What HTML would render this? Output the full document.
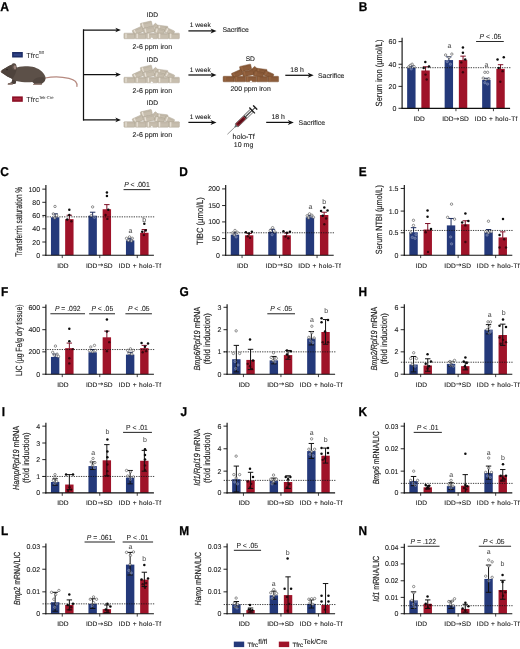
<!DOCTYPE html>
<html lang="en">
<head>
<meta charset="utf-8">
<title>Figure: Tfrc fl/fl vs Tfrc Tek-Cre iron studies</title>
<style>
html,body{margin:0;padding:0;background:#fff;}
body{width:520px;height:649px;overflow:hidden;font-family:"Liberation Sans",Arial,sans-serif;}
svg{display:block;}
</style>
</head>
<body>
<svg width="520" height="649" viewBox="0 0 520 649" style="font-family:'Liberation Sans',Arial,sans-serif" text-rendering="geometricPrecision">
<rect x="0" y="0" width="520" height="649" fill="#ffffff" />
<g id="panel-A">
<text transform="translate(0.3 10.6) scale(0.95 1)" font-size="12.8" text-anchor="start" fill="#000" font-weight="bold" stroke="#000" stroke-width="0.25">A</text>
<rect x="12.1" y="52" width="10.7" height="5.5" fill="#1e2e68" />
<rect x="13.6" y="53.6" width="7.6" height="2.3" fill="#3f56a0" opacity="0.55"/>
<text transform="translate(26.2 57.6)" font-size="7.4" text-anchor="start" fill="#222">Tfrc<tspan font-size="4.2" dy="-3.2">fl/fl</tspan></text>
<rect x="12.1" y="96.4" width="10.7" height="5.4" fill="#8c0f25" />
<rect x="13.6" y="98" width="7.6" height="2.2" fill="#c0384f" opacity="0.55"/>
<text transform="translate(26.2 101.8)" font-size="7.4" text-anchor="start" fill="#222">Tfrc<tspan font-size="4.2" dy="-3.2">Tek-Cre</tspan></text>
<g id="mouse"><path d="M45.2 78.0 C52 76.5 62 76.6 69 78.4 C74.6 79.8 77.6 82.6 76.9 86.4" fill="none" stroke="#b68a80" stroke-width="1.25" stroke-linecap="round"/><path d="M1.1 71 C3.5 69 8 66.2 11.6 64.8 L17 67.4 C20 66.6 24 66.3 28 66.3 C34 66.4 40 69 43.2 73 C44.8 75 45.8 77 45.6 78.6 C45.4 80.6 44 82.4 42.2 83.2 L41.4 84.5 L33.6 84.5 L34.2 83.3 C33.4 82.6 33 82.2 32.4 82 C27 82.6 21 82 16.2 81 L15.6 83.4 L12.4 84.3 L8 84.4 L8.4 83.3 L11.6 82.6 L12.4 79 C9.5 78 5.5 75.4 1.4 72.6 C0.8 72.1 0.7 71.5 1.1 71 Z" fill="#5c5048"/><path d="M1.1 71 C3.5 69 8 66.2 11.6 64.8 L17 67.4 C16.4 71 15 75.6 12.4 79 C9.5 78 5.5 75.4 1.4 72.6 C0.8 72.1 0.7 71.5 1.1 71 Z" fill="#4e433c"/><path d="M32.4 82 C33.6 78.6 38 76.4 43.6 77.4 C45.6 78 45.6 81.6 42.2 83.2 L41.4 84.5 L33.6 84.5 L34.2 83.3 Z" fill="#51463f"/><path d="M12.4 79 C13.6 80.2 15 80.8 16.2 81 L15.6 83.4 L12.4 84.3 L8 84.4 L8.4 83.3 L11.6 82.6 Z" fill="#4a3f39"/><ellipse cx="14.1" cy="66.6" rx="2.5" ry="3.4" transform="rotate(-8 14.1 66.6)" fill="#5a4d46"/><ellipse cx="14.9" cy="67.4" rx="1.3" ry="2.2" transform="rotate(-8 14.9 67.4)" fill="#9a837a"/><circle cx="7.0" cy="69.6" r="0.7" fill="#1c1715"/><path d="M7.8 83.5 L12.6 83.3 L12.6 84.6 L7.6 84.7 Z" fill="#9d857c"/><path d="M33.2 83.7 L41.6 83.5 L41.8 84.8 L33 84.9 Z" fill="#9d857c"/><circle cx="1.2" cy="71.6" r="0.5" fill="#8e6f66"/></g>
<line x1="83.5" y1="29.4" x2="83.5" y2="120.5" stroke="#111" stroke-width="1.25" />
<line x1="83" y1="30" x2="116.98" y2="30" stroke="#111" stroke-width="1.25" />
<path d="M120.9 30 L115.3 27.65 L116.87 30 L115.3 32.35 Z" fill="#111"/>
<line x1="83.4" y1="74.6" x2="116.98" y2="74.6" stroke="#111" stroke-width="1.25" />
<path d="M120.9 74.6 L115.3 72.25 L116.87 74.6 L115.3 76.95 Z" fill="#111"/>
<line x1="83" y1="119.9" x2="116.98" y2="119.9" stroke="#111" stroke-width="1.25" />
<path d="M120.9 119.9 L115.3 117.55 L116.87 119.9 L115.3 122.25 Z" fill="#111"/>
<g transform="translate(123.8 38.8)"><g transform="translate(22.6 -13.9) rotate(-13)"><rect x="-5.7" y="-2.8" width="11.4" height="5.6" rx="0.7" fill="#c7beae" stroke="#a69d8c" stroke-width="0.4"/><rect x="-4.2" y="-2.3" width="1.2" height="4.6" fill="#ece6db" opacity="0.9"/><line x1="-2.3" y1="-1.5" x2="4.7" y2="-1.5" stroke="#a69d8c" stroke-width="0.35" opacity="0.7"/></g><g transform="translate(31.2 -11.6) rotate(-48)"><rect x="-3.3" y="-2.5" width="6.6" height="5" rx="0.7" fill="#c7beae" stroke="#a69d8c" stroke-width="0.4"/><rect x="-1.8" y="-2" width="1.2" height="4" fill="#ece6db" opacity="0.9"/><line x1="0.1" y1="-1.2" x2="2.3" y2="-1.2" stroke="#a69d8c" stroke-width="0.35" opacity="0.7"/></g><g transform="translate(38.6 -10.6) rotate(7)"><rect x="-5.3" y="-2.5" width="10.6" height="5" rx="0.7" fill="#c7beae" stroke="#a69d8c" stroke-width="0.4"/><rect x="-3.8" y="-2" width="1.2" height="4" fill="#ece6db" opacity="0.9"/><line x1="-1.9" y1="-1.2" x2="4.3" y2="-1.2" stroke="#a69d8c" stroke-width="0.35" opacity="0.7"/></g><g transform="translate(14.2 -8) rotate(-24)"><rect x="-5.3" y="-2.7" width="10.6" height="5.4" rx="0.7" fill="#c7beae" stroke="#a69d8c" stroke-width="0.4"/><rect x="-3.8" y="-2.2" width="1.2" height="4.4" fill="#ece6db" opacity="0.9"/><line x1="-1.9" y1="-1.4" x2="4.3" y2="-1.4" stroke="#a69d8c" stroke-width="0.35" opacity="0.7"/></g><g transform="translate(25 -8.8) rotate(-12)"><rect x="-5.5" y="-2.7" width="11" height="5.4" rx="0.7" fill="#c7beae" stroke="#a69d8c" stroke-width="0.4"/><rect x="-4" y="-2.2" width="1.2" height="4.4" fill="#ece6db" opacity="0.9"/><line x1="-2.1" y1="-1.4" x2="4.5" y2="-1.4" stroke="#a69d8c" stroke-width="0.35" opacity="0.7"/></g><g transform="translate(35.6 -7.6) rotate(14)"><rect x="-4.9" y="-2.6" width="9.8" height="5.2" rx="0.7" fill="#c7beae" stroke="#a69d8c" stroke-width="0.4"/><rect x="-3.4" y="-2.1" width="1.2" height="4.2" fill="#ece6db" opacity="0.9"/><line x1="-1.5" y1="-1.3" x2="3.9" y2="-1.3" stroke="#a69d8c" stroke-width="0.35" opacity="0.7"/></g><g transform="translate(45.6 -7.3) rotate(24)"><rect x="-4.8" y="-2.5" width="9.6" height="5" rx="0.7" fill="#c7beae" stroke="#a69d8c" stroke-width="0.4"/><rect x="-3.3" y="-2" width="1.2" height="4" fill="#ece6db" opacity="0.9"/><line x1="-1.4" y1="-1.2" x2="3.8" y2="-1.2" stroke="#a69d8c" stroke-width="0.35" opacity="0.7"/></g><g transform="translate(5.6 -2.85) rotate(0)"><rect x="-5.5" y="-2.8" width="11" height="5.6" rx="0.7" fill="#c7beae" stroke="#a69d8c" stroke-width="0.4"/><rect x="-4" y="-2.3" width="1.2" height="4.6" fill="#ece6db" opacity="0.9"/><line x1="-2.1" y1="-1.5" x2="4.5" y2="-1.5" stroke="#a69d8c" stroke-width="0.35" opacity="0.7"/></g><g transform="translate(16.8 -2.85) rotate(0)"><rect x="-5.5" y="-2.8" width="11" height="5.6" rx="0.7" fill="#c7beae" stroke="#a69d8c" stroke-width="0.4"/><rect x="-4" y="-2.3" width="1.2" height="4.6" fill="#ece6db" opacity="0.9"/><line x1="-2.1" y1="-1.5" x2="4.5" y2="-1.5" stroke="#a69d8c" stroke-width="0.35" opacity="0.7"/></g><g transform="translate(28 -2.85) rotate(0)"><rect x="-5.5" y="-2.8" width="11" height="5.6" rx="0.7" fill="#c7beae" stroke="#a69d8c" stroke-width="0.4"/><rect x="-4" y="-2.3" width="1.2" height="4.6" fill="#ece6db" opacity="0.9"/><line x1="-2.1" y1="-1.5" x2="4.5" y2="-1.5" stroke="#a69d8c" stroke-width="0.35" opacity="0.7"/></g><g transform="translate(39.2 -2.85) rotate(0)"><rect x="-5.5" y="-2.8" width="11" height="5.6" rx="0.7" fill="#c7beae" stroke="#a69d8c" stroke-width="0.4"/><rect x="-4" y="-2.3" width="1.2" height="4.6" fill="#ece6db" opacity="0.9"/><line x1="-2.1" y1="-1.5" x2="4.5" y2="-1.5" stroke="#a69d8c" stroke-width="0.35" opacity="0.7"/></g><g transform="translate(50.2 -2.85) rotate(0)"><rect x="-5.4" y="-2.8" width="10.8" height="5.6" rx="0.7" fill="#c7beae" stroke="#a69d8c" stroke-width="0.4"/><rect x="-3.9" y="-2.3" width="1.2" height="4.6" fill="#ece6db" opacity="0.9"/><line x1="-2" y1="-1.5" x2="4.4" y2="-1.5" stroke="#a69d8c" stroke-width="0.35" opacity="0.7"/></g><path d="M26.6 0.2 L28.0 -1.6 L29.4 0.2 Z" fill="#ffffff"/></g>
<text transform="translate(152.4 17.2)" font-size="6.7" text-anchor="middle" fill="#222" stroke="#222" stroke-width="0.1">IDD</text>
<text transform="translate(152.4 48.5)" font-size="7.05" text-anchor="middle" fill="#222" stroke="#222" stroke-width="0.1">2-6 ppm iron</text>
<g transform="translate(123.8 82.9)"><g transform="translate(22.6 -13.9) rotate(-13)"><rect x="-5.7" y="-2.8" width="11.4" height="5.6" rx="0.7" fill="#c7beae" stroke="#a69d8c" stroke-width="0.4"/><rect x="-4.2" y="-2.3" width="1.2" height="4.6" fill="#ece6db" opacity="0.9"/><line x1="-2.3" y1="-1.5" x2="4.7" y2="-1.5" stroke="#a69d8c" stroke-width="0.35" opacity="0.7"/></g><g transform="translate(31.2 -11.6) rotate(-48)"><rect x="-3.3" y="-2.5" width="6.6" height="5" rx="0.7" fill="#c7beae" stroke="#a69d8c" stroke-width="0.4"/><rect x="-1.8" y="-2" width="1.2" height="4" fill="#ece6db" opacity="0.9"/><line x1="0.1" y1="-1.2" x2="2.3" y2="-1.2" stroke="#a69d8c" stroke-width="0.35" opacity="0.7"/></g><g transform="translate(38.6 -10.6) rotate(7)"><rect x="-5.3" y="-2.5" width="10.6" height="5" rx="0.7" fill="#c7beae" stroke="#a69d8c" stroke-width="0.4"/><rect x="-3.8" y="-2" width="1.2" height="4" fill="#ece6db" opacity="0.9"/><line x1="-1.9" y1="-1.2" x2="4.3" y2="-1.2" stroke="#a69d8c" stroke-width="0.35" opacity="0.7"/></g><g transform="translate(14.2 -8) rotate(-24)"><rect x="-5.3" y="-2.7" width="10.6" height="5.4" rx="0.7" fill="#c7beae" stroke="#a69d8c" stroke-width="0.4"/><rect x="-3.8" y="-2.2" width="1.2" height="4.4" fill="#ece6db" opacity="0.9"/><line x1="-1.9" y1="-1.4" x2="4.3" y2="-1.4" stroke="#a69d8c" stroke-width="0.35" opacity="0.7"/></g><g transform="translate(25 -8.8) rotate(-12)"><rect x="-5.5" y="-2.7" width="11" height="5.4" rx="0.7" fill="#c7beae" stroke="#a69d8c" stroke-width="0.4"/><rect x="-4" y="-2.2" width="1.2" height="4.4" fill="#ece6db" opacity="0.9"/><line x1="-2.1" y1="-1.4" x2="4.5" y2="-1.4" stroke="#a69d8c" stroke-width="0.35" opacity="0.7"/></g><g transform="translate(35.6 -7.6) rotate(14)"><rect x="-4.9" y="-2.6" width="9.8" height="5.2" rx="0.7" fill="#c7beae" stroke="#a69d8c" stroke-width="0.4"/><rect x="-3.4" y="-2.1" width="1.2" height="4.2" fill="#ece6db" opacity="0.9"/><line x1="-1.5" y1="-1.3" x2="3.9" y2="-1.3" stroke="#a69d8c" stroke-width="0.35" opacity="0.7"/></g><g transform="translate(45.6 -7.3) rotate(24)"><rect x="-4.8" y="-2.5" width="9.6" height="5" rx="0.7" fill="#c7beae" stroke="#a69d8c" stroke-width="0.4"/><rect x="-3.3" y="-2" width="1.2" height="4" fill="#ece6db" opacity="0.9"/><line x1="-1.4" y1="-1.2" x2="3.8" y2="-1.2" stroke="#a69d8c" stroke-width="0.35" opacity="0.7"/></g><g transform="translate(5.6 -2.85) rotate(0)"><rect x="-5.5" y="-2.8" width="11" height="5.6" rx="0.7" fill="#c7beae" stroke="#a69d8c" stroke-width="0.4"/><rect x="-4" y="-2.3" width="1.2" height="4.6" fill="#ece6db" opacity="0.9"/><line x1="-2.1" y1="-1.5" x2="4.5" y2="-1.5" stroke="#a69d8c" stroke-width="0.35" opacity="0.7"/></g><g transform="translate(16.8 -2.85) rotate(0)"><rect x="-5.5" y="-2.8" width="11" height="5.6" rx="0.7" fill="#c7beae" stroke="#a69d8c" stroke-width="0.4"/><rect x="-4" y="-2.3" width="1.2" height="4.6" fill="#ece6db" opacity="0.9"/><line x1="-2.1" y1="-1.5" x2="4.5" y2="-1.5" stroke="#a69d8c" stroke-width="0.35" opacity="0.7"/></g><g transform="translate(28 -2.85) rotate(0)"><rect x="-5.5" y="-2.8" width="11" height="5.6" rx="0.7" fill="#c7beae" stroke="#a69d8c" stroke-width="0.4"/><rect x="-4" y="-2.3" width="1.2" height="4.6" fill="#ece6db" opacity="0.9"/><line x1="-2.1" y1="-1.5" x2="4.5" y2="-1.5" stroke="#a69d8c" stroke-width="0.35" opacity="0.7"/></g><g transform="translate(39.2 -2.85) rotate(0)"><rect x="-5.5" y="-2.8" width="11" height="5.6" rx="0.7" fill="#c7beae" stroke="#a69d8c" stroke-width="0.4"/><rect x="-4" y="-2.3" width="1.2" height="4.6" fill="#ece6db" opacity="0.9"/><line x1="-2.1" y1="-1.5" x2="4.5" y2="-1.5" stroke="#a69d8c" stroke-width="0.35" opacity="0.7"/></g><g transform="translate(50.2 -2.85) rotate(0)"><rect x="-5.4" y="-2.8" width="10.8" height="5.6" rx="0.7" fill="#c7beae" stroke="#a69d8c" stroke-width="0.4"/><rect x="-3.9" y="-2.3" width="1.2" height="4.6" fill="#ece6db" opacity="0.9"/><line x1="-2" y1="-1.5" x2="4.4" y2="-1.5" stroke="#a69d8c" stroke-width="0.35" opacity="0.7"/></g><path d="M26.6 0.2 L28.0 -1.6 L29.4 0.2 Z" fill="#ffffff"/></g>
<text transform="translate(152.4 61.6)" font-size="6.7" text-anchor="middle" fill="#222" stroke="#222" stroke-width="0.1">IDD</text>
<text transform="translate(152.4 92.7)" font-size="7.05" text-anchor="middle" fill="#222" stroke="#222" stroke-width="0.1">2-6 ppm iron</text>
<g transform="translate(123.8 127.3)"><g transform="translate(22.6 -13.9) rotate(-13)"><rect x="-5.7" y="-2.8" width="11.4" height="5.6" rx="0.7" fill="#c7beae" stroke="#a69d8c" stroke-width="0.4"/><rect x="-4.2" y="-2.3" width="1.2" height="4.6" fill="#ece6db" opacity="0.9"/><line x1="-2.3" y1="-1.5" x2="4.7" y2="-1.5" stroke="#a69d8c" stroke-width="0.35" opacity="0.7"/></g><g transform="translate(31.2 -11.6) rotate(-48)"><rect x="-3.3" y="-2.5" width="6.6" height="5" rx="0.7" fill="#c7beae" stroke="#a69d8c" stroke-width="0.4"/><rect x="-1.8" y="-2" width="1.2" height="4" fill="#ece6db" opacity="0.9"/><line x1="0.1" y1="-1.2" x2="2.3" y2="-1.2" stroke="#a69d8c" stroke-width="0.35" opacity="0.7"/></g><g transform="translate(38.6 -10.6) rotate(7)"><rect x="-5.3" y="-2.5" width="10.6" height="5" rx="0.7" fill="#c7beae" stroke="#a69d8c" stroke-width="0.4"/><rect x="-3.8" y="-2" width="1.2" height="4" fill="#ece6db" opacity="0.9"/><line x1="-1.9" y1="-1.2" x2="4.3" y2="-1.2" stroke="#a69d8c" stroke-width="0.35" opacity="0.7"/></g><g transform="translate(14.2 -8) rotate(-24)"><rect x="-5.3" y="-2.7" width="10.6" height="5.4" rx="0.7" fill="#c7beae" stroke="#a69d8c" stroke-width="0.4"/><rect x="-3.8" y="-2.2" width="1.2" height="4.4" fill="#ece6db" opacity="0.9"/><line x1="-1.9" y1="-1.4" x2="4.3" y2="-1.4" stroke="#a69d8c" stroke-width="0.35" opacity="0.7"/></g><g transform="translate(25 -8.8) rotate(-12)"><rect x="-5.5" y="-2.7" width="11" height="5.4" rx="0.7" fill="#c7beae" stroke="#a69d8c" stroke-width="0.4"/><rect x="-4" y="-2.2" width="1.2" height="4.4" fill="#ece6db" opacity="0.9"/><line x1="-2.1" y1="-1.4" x2="4.5" y2="-1.4" stroke="#a69d8c" stroke-width="0.35" opacity="0.7"/></g><g transform="translate(35.6 -7.6) rotate(14)"><rect x="-4.9" y="-2.6" width="9.8" height="5.2" rx="0.7" fill="#c7beae" stroke="#a69d8c" stroke-width="0.4"/><rect x="-3.4" y="-2.1" width="1.2" height="4.2" fill="#ece6db" opacity="0.9"/><line x1="-1.5" y1="-1.3" x2="3.9" y2="-1.3" stroke="#a69d8c" stroke-width="0.35" opacity="0.7"/></g><g transform="translate(45.6 -7.3) rotate(24)"><rect x="-4.8" y="-2.5" width="9.6" height="5" rx="0.7" fill="#c7beae" stroke="#a69d8c" stroke-width="0.4"/><rect x="-3.3" y="-2" width="1.2" height="4" fill="#ece6db" opacity="0.9"/><line x1="-1.4" y1="-1.2" x2="3.8" y2="-1.2" stroke="#a69d8c" stroke-width="0.35" opacity="0.7"/></g><g transform="translate(5.6 -2.85) rotate(0)"><rect x="-5.5" y="-2.8" width="11" height="5.6" rx="0.7" fill="#c7beae" stroke="#a69d8c" stroke-width="0.4"/><rect x="-4" y="-2.3" width="1.2" height="4.6" fill="#ece6db" opacity="0.9"/><line x1="-2.1" y1="-1.5" x2="4.5" y2="-1.5" stroke="#a69d8c" stroke-width="0.35" opacity="0.7"/></g><g transform="translate(16.8 -2.85) rotate(0)"><rect x="-5.5" y="-2.8" width="11" height="5.6" rx="0.7" fill="#c7beae" stroke="#a69d8c" stroke-width="0.4"/><rect x="-4" y="-2.3" width="1.2" height="4.6" fill="#ece6db" opacity="0.9"/><line x1="-2.1" y1="-1.5" x2="4.5" y2="-1.5" stroke="#a69d8c" stroke-width="0.35" opacity="0.7"/></g><g transform="translate(28 -2.85) rotate(0)"><rect x="-5.5" y="-2.8" width="11" height="5.6" rx="0.7" fill="#c7beae" stroke="#a69d8c" stroke-width="0.4"/><rect x="-4" y="-2.3" width="1.2" height="4.6" fill="#ece6db" opacity="0.9"/><line x1="-2.1" y1="-1.5" x2="4.5" y2="-1.5" stroke="#a69d8c" stroke-width="0.35" opacity="0.7"/></g><g transform="translate(39.2 -2.85) rotate(0)"><rect x="-5.5" y="-2.8" width="11" height="5.6" rx="0.7" fill="#c7beae" stroke="#a69d8c" stroke-width="0.4"/><rect x="-4" y="-2.3" width="1.2" height="4.6" fill="#ece6db" opacity="0.9"/><line x1="-2.1" y1="-1.5" x2="4.5" y2="-1.5" stroke="#a69d8c" stroke-width="0.35" opacity="0.7"/></g><g transform="translate(50.2 -2.85) rotate(0)"><rect x="-5.4" y="-2.8" width="10.8" height="5.6" rx="0.7" fill="#c7beae" stroke="#a69d8c" stroke-width="0.4"/><rect x="-3.9" y="-2.3" width="1.2" height="4.6" fill="#ece6db" opacity="0.9"/><line x1="-2" y1="-1.5" x2="4.4" y2="-1.5" stroke="#a69d8c" stroke-width="0.35" opacity="0.7"/></g><path d="M26.6 0.2 L28.0 -1.6 L29.4 0.2 Z" fill="#ffffff"/></g>
<text transform="translate(152.4 105.4)" font-size="6.7" text-anchor="middle" fill="#222" stroke="#222" stroke-width="0.1">IDD</text>
<text transform="translate(152.4 136.9)" font-size="7.05" text-anchor="middle" fill="#222" stroke="#222" stroke-width="0.1">2-6 ppm iron</text>
<line x1="188.4" y1="30.9" x2="212.3" y2="30.9" stroke="#111" stroke-width="1.25" />
<path d="M216.5 30.9 L210.5 28.4 L212.18 30.9 L210.5 33.4 Z" fill="#111"/>
<text transform="translate(189.8 27.4)" font-size="6.6" text-anchor="start" fill="#222" stroke="#222" stroke-width="0.1">1 week</text>
<line x1="188.4" y1="75" x2="212.3" y2="75" stroke="#111" stroke-width="1.25" />
<path d="M216.5 75 L210.5 72.5 L212.18 75 L210.5 77.5 Z" fill="#111"/>
<text transform="translate(189.8 71.5)" font-size="6.6" text-anchor="start" fill="#222" stroke="#222" stroke-width="0.1">1 week</text>
<line x1="188.4" y1="122.4" x2="212.3" y2="122.4" stroke="#111" stroke-width="1.25" />
<path d="M216.5 122.4 L210.5 119.9 L212.18 122.4 L210.5 124.9 Z" fill="#111"/>
<text transform="translate(189.8 118.9)" font-size="6.6" text-anchor="start" fill="#222" stroke="#222" stroke-width="0.1">1 week</text>
<text transform="translate(222.4 32.3)" font-size="6.9" text-anchor="start" fill="#222" stroke="#222" stroke-width="0.1">Sacrifice</text>
<g transform="translate(223 81.9)"><g transform="translate(22.6 -13.9) rotate(-13)"><rect x="-5.7" y="-2.8" width="11.4" height="5.6" rx="0.7" fill="#8c5c3a" stroke="#6f4628" stroke-width="0.4"/><rect x="-4.2" y="-2.3" width="1.2" height="4.6" fill="#a06e48" opacity="0.6"/><line x1="-2.3" y1="-1.5" x2="4.7" y2="-1.5" stroke="#6f4628" stroke-width="0.35" opacity="0.7"/></g><g transform="translate(31.2 -11.6) rotate(-48)"><rect x="-3.3" y="-2.5" width="6.6" height="5" rx="0.7" fill="#8c5c3a" stroke="#6f4628" stroke-width="0.4"/><rect x="-1.8" y="-2" width="1.2" height="4" fill="#a06e48" opacity="0.6"/><line x1="0.1" y1="-1.2" x2="2.3" y2="-1.2" stroke="#6f4628" stroke-width="0.35" opacity="0.7"/></g><g transform="translate(38.6 -10.6) rotate(7)"><rect x="-5.3" y="-2.5" width="10.6" height="5" rx="0.7" fill="#8c5c3a" stroke="#6f4628" stroke-width="0.4"/><rect x="-3.8" y="-2" width="1.2" height="4" fill="#a06e48" opacity="0.6"/><line x1="-1.9" y1="-1.2" x2="4.3" y2="-1.2" stroke="#6f4628" stroke-width="0.35" opacity="0.7"/></g><g transform="translate(14.2 -8) rotate(-24)"><rect x="-5.3" y="-2.7" width="10.6" height="5.4" rx="0.7" fill="#8c5c3a" stroke="#6f4628" stroke-width="0.4"/><rect x="-3.8" y="-2.2" width="1.2" height="4.4" fill="#a06e48" opacity="0.6"/><line x1="-1.9" y1="-1.4" x2="4.3" y2="-1.4" stroke="#6f4628" stroke-width="0.35" opacity="0.7"/></g><g transform="translate(25 -8.8) rotate(-12)"><rect x="-5.5" y="-2.7" width="11" height="5.4" rx="0.7" fill="#8c5c3a" stroke="#6f4628" stroke-width="0.4"/><rect x="-4" y="-2.2" width="1.2" height="4.4" fill="#a06e48" opacity="0.6"/><line x1="-2.1" y1="-1.4" x2="4.5" y2="-1.4" stroke="#6f4628" stroke-width="0.35" opacity="0.7"/></g><g transform="translate(35.6 -7.6) rotate(14)"><rect x="-4.9" y="-2.6" width="9.8" height="5.2" rx="0.7" fill="#8c5c3a" stroke="#6f4628" stroke-width="0.4"/><rect x="-3.4" y="-2.1" width="1.2" height="4.2" fill="#a06e48" opacity="0.6"/><line x1="-1.5" y1="-1.3" x2="3.9" y2="-1.3" stroke="#6f4628" stroke-width="0.35" opacity="0.7"/></g><g transform="translate(45.6 -7.3) rotate(24)"><rect x="-4.8" y="-2.5" width="9.6" height="5" rx="0.7" fill="#8c5c3a" stroke="#6f4628" stroke-width="0.4"/><rect x="-3.3" y="-2" width="1.2" height="4" fill="#a06e48" opacity="0.6"/><line x1="-1.4" y1="-1.2" x2="3.8" y2="-1.2" stroke="#6f4628" stroke-width="0.35" opacity="0.7"/></g><g transform="translate(5.6 -2.85) rotate(0)"><rect x="-5.5" y="-2.8" width="11" height="5.6" rx="0.7" fill="#8c5c3a" stroke="#6f4628" stroke-width="0.4"/><rect x="-4" y="-2.3" width="1.2" height="4.6" fill="#a06e48" opacity="0.6"/><line x1="-2.1" y1="-1.5" x2="4.5" y2="-1.5" stroke="#6f4628" stroke-width="0.35" opacity="0.7"/></g><g transform="translate(16.8 -2.85) rotate(0)"><rect x="-5.5" y="-2.8" width="11" height="5.6" rx="0.7" fill="#8c5c3a" stroke="#6f4628" stroke-width="0.4"/><rect x="-4" y="-2.3" width="1.2" height="4.6" fill="#a06e48" opacity="0.6"/><line x1="-2.1" y1="-1.5" x2="4.5" y2="-1.5" stroke="#6f4628" stroke-width="0.35" opacity="0.7"/></g><g transform="translate(28 -2.85) rotate(0)"><rect x="-5.5" y="-2.8" width="11" height="5.6" rx="0.7" fill="#8c5c3a" stroke="#6f4628" stroke-width="0.4"/><rect x="-4" y="-2.3" width="1.2" height="4.6" fill="#a06e48" opacity="0.6"/><line x1="-2.1" y1="-1.5" x2="4.5" y2="-1.5" stroke="#6f4628" stroke-width="0.35" opacity="0.7"/></g><g transform="translate(39.2 -2.85) rotate(0)"><rect x="-5.5" y="-2.8" width="11" height="5.6" rx="0.7" fill="#8c5c3a" stroke="#6f4628" stroke-width="0.4"/><rect x="-4" y="-2.3" width="1.2" height="4.6" fill="#a06e48" opacity="0.6"/><line x1="-2.1" y1="-1.5" x2="4.5" y2="-1.5" stroke="#6f4628" stroke-width="0.35" opacity="0.7"/></g><g transform="translate(50.2 -2.85) rotate(0)"><rect x="-5.4" y="-2.8" width="10.8" height="5.6" rx="0.7" fill="#8c5c3a" stroke="#6f4628" stroke-width="0.4"/><rect x="-3.9" y="-2.3" width="1.2" height="4.6" fill="#a06e48" opacity="0.6"/><line x1="-2" y1="-1.5" x2="4.4" y2="-1.5" stroke="#6f4628" stroke-width="0.35" opacity="0.7"/></g><path d="M26.6 0.2 L28.0 -1.6 L29.4 0.2 Z" fill="#ffffff"/></g>
<text transform="translate(250.3 61.2)" font-size="6.7" text-anchor="middle" fill="#222" stroke="#222" stroke-width="0.1">SD</text>
<text transform="translate(250.6 91.4)" font-size="6.9" text-anchor="middle" fill="#222" stroke="#222" stroke-width="0.1">200 ppm iron</text>
<line x1="285.3" y1="75.3" x2="309.5" y2="75.3" stroke="#111" stroke-width="1.25" />
<path d="M313.7 75.3 L307.7 72.8 L309.38 75.3 L307.7 77.8 Z" fill="#111"/>
<text transform="translate(297 72.4)" font-size="6.9" text-anchor="middle" fill="#222" stroke="#222" stroke-width="0.1">18 h</text>
<text transform="translate(318 78.2)" font-size="6.9" text-anchor="start" fill="#222" stroke="#222" stroke-width="0.1">Sacrifice</text>
<g transform="translate(227.4 134.3) rotate(-44)"><line x1="0" y1="0" x2="11" y2="0" stroke="#4a4a4a" stroke-width="0.55"/><path d="M10.4 -0.7 L12.8 -1.3 L12.8 1.3 L10.4 0.7 Z" fill="#5d6b6b"/><rect x="12.6" y="-2.1" width="21.4" height="4.2" rx="0.5" fill="#f4f4f4" stroke="#2b2b2b" stroke-width="0.6"/><rect x="13.0" y="-1.75" width="11.2" height="3.5" fill="#7c1420"/><rect x="15.0" y="-1.0" width="7.2" height="2.0" fill="#5a0c16"/><rect x="24.2" y="-1.8" width="1.3" height="3.6" fill="#222"/><path d="M26.6 -2.0v1.7M28 -2.0v1.7M29.4 -2.0v1.7M30.8 -2.0v1.7M32.2 -2.0v1.7" stroke="#333" stroke-width="0.4"/><rect x="25.4" y="-0.5" width="13.2" height="1.0" fill="#2b2b2b"/><rect x="33.7" y="-4.1" width="1.3" height="8.2" rx="0.4" fill="#1d1d1d"/><rect x="37.9" y="-3.0" width="1.4" height="6.0" rx="0.5" fill="#1d1d1d"/></g>
<text transform="translate(243.6 139.3)" font-size="7.1" text-anchor="middle" fill="#222" stroke="#222" stroke-width="0.1">holo-Tf</text>
<text transform="translate(243.6 146.9)" font-size="7" text-anchor="middle" fill="#222" stroke="#222" stroke-width="0.1">10 mg</text>
<line x1="266.2" y1="122.4" x2="289.6" y2="122.4" stroke="#111" stroke-width="1.25" />
<path d="M293.8 122.4 L287.8 119.9 L289.48 122.4 L287.8 124.9 Z" fill="#111"/>
<text transform="translate(278.2 119)" font-size="6.9" text-anchor="middle" fill="#222" stroke="#222" stroke-width="0.1">18 h</text>
<text transform="translate(298.6 124.8)" font-size="6.9" text-anchor="start" fill="#222" stroke="#222" stroke-width="0.1">Sacrifice</text>
</g>
<g id="chart-B">
<text transform="translate(358.7 10.6) scale(0.93 1)" font-size="12.8" text-anchor="start" fill="#000" font-weight="bold" stroke="#000" stroke-width="0.25">B</text>
<rect x="407.15" y="67.69" width="8.4" height="40.61" fill="#24397a" />
<rect x="421.35" y="70.46" width="8.4" height="37.84" fill="#9f1329" />
<rect x="444.65" y="60.08" width="8.4" height="48.22" fill="#24397a" />
<rect x="458.85" y="60.08" width="8.4" height="48.22" fill="#9f1329" />
<rect x="482.15" y="79.92" width="8.4" height="28.38" fill="#24397a" />
<rect x="496.35" y="68.85" width="8.4" height="39.45" fill="#9f1329" />
<line x1="411.35" y1="66.08" x2="411.35" y2="68.19" stroke="#1b2a5c" stroke-width="1" />
<line x1="408.65" y1="66.08" x2="414.05" y2="66.08" stroke="#1b2a5c" stroke-width="1" />
<line x1="425.55" y1="66.77" x2="425.55" y2="70.96" stroke="#7d0e25" stroke-width="1" />
<line x1="422.85" y1="66.77" x2="428.25" y2="66.77" stroke="#7d0e25" stroke-width="1" />
<line x1="448.85" y1="56.85" x2="448.85" y2="60.58" stroke="#1b2a5c" stroke-width="1" />
<line x1="446.15" y1="56.85" x2="451.55" y2="56.85" stroke="#1b2a5c" stroke-width="1" />
<line x1="463.05" y1="56.15" x2="463.05" y2="60.58" stroke="#7d0e25" stroke-width="1" />
<line x1="460.35" y1="56.15" x2="465.75" y2="56.15" stroke="#7d0e25" stroke-width="1" />
<line x1="486.35" y1="78.31" x2="486.35" y2="80.42" stroke="#1b2a5c" stroke-width="1" />
<line x1="483.65" y1="78.31" x2="489.05" y2="78.31" stroke="#1b2a5c" stroke-width="1" />
<line x1="500.55" y1="64.69" x2="500.55" y2="69.35" stroke="#7d0e25" stroke-width="1" />
<line x1="497.85" y1="64.69" x2="503.25" y2="64.69" stroke="#7d0e25" stroke-width="1" />
<line x1="398.7" y1="67.69" x2="510.6" y2="67.69" stroke="#111" stroke-width="0.8" stroke-dasharray="1.3 1.1"/>
<circle cx="408.69" cy="67" r="1.2" fill="#fff" fill-opacity="0.7" stroke="#3a3a3a" stroke-width="0.55"/>
<circle cx="410.31" cy="65.38" r="1.2" fill="#fff" fill-opacity="0.7" stroke="#3a3a3a" stroke-width="0.55"/>
<circle cx="412.15" cy="64.23" r="1.2" fill="#fff" fill-opacity="0.7" stroke="#3a3a3a" stroke-width="0.55"/>
<circle cx="414" cy="66.54" r="1.2" fill="#fff" fill-opacity="0.7" stroke="#3a3a3a" stroke-width="0.55"/>
<circle cx="411.23" cy="68.85" r="1.2" fill="#fff" fill-opacity="0.18" stroke="#aab3d0" stroke-opacity="0.75" stroke-width="0.5"/>
<circle cx="425.31" cy="61.92" r="1.25" fill="#0c0c0c"/>
<circle cx="429" cy="66.54" r="1.25" fill="#0c0c0c"/>
<circle cx="423.69" cy="67.92" r="1.25" fill="#0c0c0c"/>
<circle cx="425.54" cy="74.62" r="1.2" fill="#2a0509" fill-opacity="0.85"/>
<circle cx="426.69" cy="79.46" r="1.2" fill="#2a0509" fill-opacity="0.85"/>
<circle cx="445.62" cy="55" r="1.2" fill="#fff" fill-opacity="0.7" stroke="#3a3a3a" stroke-width="0.55"/>
<circle cx="451.85" cy="54.08" r="1.2" fill="#fff" fill-opacity="0.7" stroke="#3a3a3a" stroke-width="0.55"/>
<circle cx="449.08" cy="57.54" r="1.2" fill="#fff" fill-opacity="0.7" stroke="#3a3a3a" stroke-width="0.55"/>
<circle cx="447.23" cy="61.46" r="1.2" fill="#fff" fill-opacity="0.18" stroke="#aab3d0" stroke-opacity="0.75" stroke-width="0.5"/>
<circle cx="450.46" cy="64.23" r="1.2" fill="#fff" fill-opacity="0.18" stroke="#aab3d0" stroke-opacity="0.75" stroke-width="0.5"/>
<circle cx="462.92" cy="47.38" r="1.25" fill="#0c0c0c"/>
<circle cx="462.92" cy="52.69" r="1.25" fill="#0c0c0c"/>
<circle cx="465.23" cy="59.62" r="1.25" fill="#0c0c0c"/>
<circle cx="461.31" cy="62.38" r="1.2" fill="#2a0509" fill-opacity="0.85"/>
<circle cx="462.92" cy="72.31" r="1.2" fill="#2a0509" fill-opacity="0.85"/>
<circle cx="484.85" cy="72.31" r="1.2" fill="#fff" fill-opacity="0.7" stroke="#3a3a3a" stroke-width="0.55"/>
<circle cx="487.62" cy="72.31" r="1.2" fill="#fff" fill-opacity="0.7" stroke="#3a3a3a" stroke-width="0.55"/>
<circle cx="483.23" cy="78.08" r="1.2" fill="#fff" fill-opacity="0.7" stroke="#3a3a3a" stroke-width="0.55"/>
<circle cx="486" cy="79.46" r="1.2" fill="#fff" fill-opacity="0.7" stroke="#3a3a3a" stroke-width="0.55"/>
<circle cx="488.77" cy="78.77" r="1.2" fill="#fff" fill-opacity="0.7" stroke="#3a3a3a" stroke-width="0.55"/>
<circle cx="484.85" cy="82.69" r="1.2" fill="#fff" fill-opacity="0.18" stroke="#aab3d0" stroke-opacity="0.75" stroke-width="0.5"/>
<circle cx="487.62" cy="84.08" r="1.2" fill="#fff" fill-opacity="0.18" stroke="#aab3d0" stroke-opacity="0.75" stroke-width="0.5"/>
<circle cx="497.54" cy="59.62" r="1.25" fill="#0c0c0c"/>
<circle cx="503.77" cy="57.31" r="1.25" fill="#0c0c0c"/>
<circle cx="498.69" cy="67.92" r="1.25" fill="#0c0c0c"/>
<circle cx="502.62" cy="71.15" r="1.2" fill="#2a0509" fill-opacity="0.85"/>
<circle cx="500.31" cy="81.77" r="1.2" fill="#2a0509" fill-opacity="0.85"/>
<line x1="402.1" y1="37.7" x2="402.1" y2="108.85" stroke="#111" stroke-width="1.15" />
<line x1="401.55" y1="108.3" x2="510.1" y2="108.3" stroke="#111" stroke-width="1.15" />
<line x1="418.45" y1="108.3" x2="418.45" y2="111.2" stroke="#111" stroke-width="0.8" />
<line x1="455.95" y1="108.3" x2="455.95" y2="111.2" stroke="#111" stroke-width="0.8" />
<line x1="493.45" y1="108.3" x2="493.45" y2="111.2" stroke="#111" stroke-width="0.8" />
<line x1="398.5" y1="41.62" x2="402.1" y2="41.62" stroke="#111" stroke-width="0.9" />
<text transform="translate(396.3 44.12)" font-size="7" text-anchor="end" fill="#222" stroke="#222" stroke-width="0.1">60</text>
<line x1="398.5" y1="64.23" x2="402.1" y2="64.23" stroke="#111" stroke-width="0.9" />
<text transform="translate(396.3 66.73)" font-size="7" text-anchor="end" fill="#222" stroke="#222" stroke-width="0.1">40</text>
<line x1="398.5" y1="86.39" x2="402.1" y2="86.39" stroke="#111" stroke-width="0.9" />
<text transform="translate(396.3 88.89)" font-size="7" text-anchor="end" fill="#222" stroke="#222" stroke-width="0.1">20</text>
<line x1="398.5" y1="108.3" x2="402.1" y2="108.3" stroke="#111" stroke-width="0.9" />
<text transform="translate(396.3 110.8)" font-size="7" text-anchor="end" fill="#222" stroke="#222" stroke-width="0.1">0</text>
<text transform="translate(382.3 72.9) rotate(-90) scale(0.84 1)" font-size="9" text-anchor="middle" fill="#222" stroke="#222" stroke-width="0.16">Serum iron (µmol/L)</text>
<text transform="translate(419.1 120.6)" font-size="6.6" text-anchor="middle" fill="#222" stroke="#222" stroke-width="0.12">IDD</text>
<text transform="translate(455.5 120.6)" font-size="6.6" text-anchor="middle" fill="#222" stroke="#222" stroke-width="0.12">IDD<tspan font-family="DejaVu Sans, sans-serif" font-size="6.6" dx="0.3" dy="-0.1">→</tspan><tspan dx="0.3" dy="0.1">SD</tspan></text>
<text transform="translate(496.1 120.6)" font-size="6.6" text-anchor="middle" fill="#222" letter-spacing="0.28" stroke="#222" stroke-width="0.12">IDD + holo-Tf</text>
<text transform="translate(449.54 47.77)" font-size="7" text-anchor="middle" fill="#444">a</text>
<text transform="translate(486.46 66.69)" font-size="7" text-anchor="middle" fill="#444">a</text>
<line x1="476.08" y1="41.5" x2="503.77" y2="41.5" stroke="#2a2a2a" stroke-width="1.05" />
<text transform="translate(490.39 39.1) scale(0.92 1)" font-size="7.4" text-anchor="middle" fill="#222" stroke="#222" stroke-width="0.08"><tspan font-style="italic">P</tspan> &lt; .05</text>
</g>
<g id="chart-C">
<text transform="translate(0.2 176) scale(0.93 1)" font-size="12.8" text-anchor="start" fill="#000" font-weight="bold" stroke="#000" stroke-width="0.25">C</text>
<rect x="50.95" y="217.31" width="8.4" height="37.89" fill="#24397a" />
<rect x="65.15" y="219.15" width="8.4" height="36.05" fill="#9f1329" />
<rect x="88.45" y="215.69" width="8.4" height="39.51" fill="#24397a" />
<rect x="102.65" y="209.23" width="8.4" height="45.97" fill="#9f1329" />
<rect x="125.95" y="240.39" width="8.4" height="14.81" fill="#24397a" />
<rect x="140.15" y="232.77" width="8.4" height="22.43" fill="#9f1329" />
<line x1="55.15" y1="213.85" x2="55.15" y2="217.81" stroke="#1b2a5c" stroke-width="1" />
<line x1="52.45" y1="213.85" x2="57.85" y2="213.85" stroke="#1b2a5c" stroke-width="1" />
<line x1="69.35" y1="215.23" x2="69.35" y2="219.65" stroke="#7d0e25" stroke-width="1" />
<line x1="66.65" y1="215.23" x2="72.05" y2="215.23" stroke="#7d0e25" stroke-width="1" />
<line x1="92.65" y1="212.23" x2="92.65" y2="216.19" stroke="#1b2a5c" stroke-width="1" />
<line x1="89.95" y1="212.23" x2="95.35" y2="212.23" stroke="#1b2a5c" stroke-width="1" />
<line x1="106.85" y1="204.62" x2="106.85" y2="209.73" stroke="#7d0e25" stroke-width="1" />
<line x1="104.15" y1="204.62" x2="109.55" y2="204.62" stroke="#7d0e25" stroke-width="1" />
<line x1="130.15" y1="238.77" x2="130.15" y2="240.89" stroke="#1b2a5c" stroke-width="1" />
<line x1="127.45" y1="238.77" x2="132.85" y2="238.77" stroke="#1b2a5c" stroke-width="1" />
<line x1="144.35" y1="229.54" x2="144.35" y2="233.27" stroke="#7d0e25" stroke-width="1" />
<line x1="141.65" y1="229.54" x2="147.05" y2="229.54" stroke="#7d0e25" stroke-width="1" />
<line x1="42.5" y1="216.85" x2="154.4" y2="216.85" stroke="#111" stroke-width="0.8" stroke-dasharray="1.3 1.1"/>
<circle cx="55" cy="206.46" r="1.2" fill="#fff" fill-opacity="0.7" stroke="#3a3a3a" stroke-width="0.55"/>
<circle cx="53.38" cy="213.85" r="1.2" fill="#fff" fill-opacity="0.7" stroke="#3a3a3a" stroke-width="0.55"/>
<circle cx="56.62" cy="215.23" r="1.2" fill="#fff" fill-opacity="0.7" stroke="#3a3a3a" stroke-width="0.55"/>
<circle cx="54.77" cy="218" r="1.2" fill="#fff" fill-opacity="0.7" stroke="#3a3a3a" stroke-width="0.55"/>
<circle cx="69.31" cy="209.69" r="1.25" fill="#0c0c0c"/>
<circle cx="69.31" cy="215" r="1.25" fill="#0c0c0c"/>
<circle cx="67.23" cy="219.62" r="1.25" fill="#0c0c0c"/>
<circle cx="71.38" cy="221.23" r="1.2" fill="#2a0509" fill-opacity="0.85"/>
<circle cx="92.62" cy="206.92" r="1.2" fill="#fff" fill-opacity="0.7" stroke="#3a3a3a" stroke-width="0.55"/>
<circle cx="91.23" cy="215.69" r="1.2" fill="#fff" fill-opacity="0.7" stroke="#3a3a3a" stroke-width="0.55"/>
<circle cx="94.46" cy="217.31" r="1.2" fill="#fff" fill-opacity="0.18" stroke="#aab3d0" stroke-opacity="0.75" stroke-width="0.5"/>
<circle cx="106.92" cy="192.38" r="1.25" fill="#0c0c0c"/>
<circle cx="106.92" cy="196.08" r="1.25" fill="#0c0c0c"/>
<circle cx="108.31" cy="209.69" r="1.25" fill="#0c0c0c"/>
<circle cx="105.54" cy="215" r="1.2" fill="#2a0509" fill-opacity="0.85"/>
<circle cx="107.39" cy="218.92" r="1.2" fill="#2a0509" fill-opacity="0.85"/>
<circle cx="126.54" cy="238.31" r="1.2" fill="#fff" fill-opacity="0.7" stroke="#3a3a3a" stroke-width="0.55"/>
<circle cx="129.54" cy="236.92" r="1.2" fill="#fff" fill-opacity="0.7" stroke="#3a3a3a" stroke-width="0.55"/>
<circle cx="132.31" cy="238.31" r="1.2" fill="#fff" fill-opacity="0.7" stroke="#3a3a3a" stroke-width="0.55"/>
<circle cx="128.39" cy="240.62" r="1.2" fill="#fff" fill-opacity="0.7" stroke="#3a3a3a" stroke-width="0.55"/>
<circle cx="131.39" cy="241.08" r="1.2" fill="#fff" fill-opacity="0.7" stroke="#3a3a3a" stroke-width="0.55"/>
<circle cx="144.31" cy="223.77" r="1.25" fill="#0c0c0c"/>
<circle cx="142.23" cy="231.85" r="1.25" fill="#0c0c0c"/>
<circle cx="145.69" cy="230.46" r="1.25" fill="#0c0c0c"/>
<circle cx="143.85" cy="235.08" r="1.2" fill="#2a0509" fill-opacity="0.85"/>
<line x1="45.9" y1="185" x2="45.9" y2="255.75" stroke="#111" stroke-width="1.15" />
<line x1="45.35" y1="255.2" x2="153.9" y2="255.2" stroke="#111" stroke-width="1.15" />
<line x1="62.25" y1="255.2" x2="62.25" y2="258.1" stroke="#111" stroke-width="0.8" />
<line x1="99.75" y1="255.2" x2="99.75" y2="258.1" stroke="#111" stroke-width="0.8" />
<line x1="137.25" y1="255.2" x2="137.25" y2="258.1" stroke="#111" stroke-width="0.8" />
<line x1="42.3" y1="189.15" x2="45.9" y2="189.15" stroke="#111" stroke-width="0.9" />
<text transform="translate(40.1 191.65)" font-size="7" text-anchor="end" fill="#222" stroke="#222" stroke-width="0.1">100</text>
<line x1="42.3" y1="202.31" x2="45.9" y2="202.31" stroke="#111" stroke-width="0.9" />
<text transform="translate(40.1 204.81)" font-size="7" text-anchor="end" fill="#222" stroke="#222" stroke-width="0.1">80</text>
<line x1="42.3" y1="215.46" x2="45.9" y2="215.46" stroke="#111" stroke-width="0.9" />
<text transform="translate(40.1 217.96)" font-size="7" text-anchor="end" fill="#222" stroke="#222" stroke-width="0.1">60</text>
<line x1="42.3" y1="228.85" x2="45.9" y2="228.85" stroke="#111" stroke-width="0.9" />
<text transform="translate(40.1 231.35)" font-size="7" text-anchor="end" fill="#222" stroke="#222" stroke-width="0.1">40</text>
<line x1="42.3" y1="242" x2="45.9" y2="242" stroke="#111" stroke-width="0.9" />
<text transform="translate(40.1 244.5)" font-size="7" text-anchor="end" fill="#222" stroke="#222" stroke-width="0.1">20</text>
<line x1="42.3" y1="255.2" x2="45.9" y2="255.2" stroke="#111" stroke-width="0.9" />
<text transform="translate(40.1 257.7)" font-size="7" text-anchor="end" fill="#222" stroke="#222" stroke-width="0.1">0</text>
<text transform="translate(22.3 221.8) rotate(-90) scale(0.68 1)" font-size="9.7" text-anchor="middle" fill="#222" stroke="#222" stroke-width="0.16">Transferrin saturation %</text>
<text transform="translate(62.9 267.5)" font-size="6.6" text-anchor="middle" fill="#222" stroke="#222" stroke-width="0.12">IDD</text>
<text transform="translate(99.3 267.5)" font-size="6.6" text-anchor="middle" fill="#222" stroke="#222" stroke-width="0.12">IDD<tspan font-family="DejaVu Sans, sans-serif" font-size="6.6" dx="0.3" dy="-0.1">→</tspan><tspan dx="0.3" dy="0.1">SD</tspan></text>
<text transform="translate(139.9 267.5)" font-size="6.6" text-anchor="middle" fill="#222" letter-spacing="0.28" stroke="#222" stroke-width="0.12">IDD + holo-Tf</text>
<text transform="translate(130.46 233.15)" font-size="7" text-anchor="middle" fill="#444">a</text>
<text transform="translate(144.31 221.62)" font-size="7" text-anchor="middle" fill="#444">b</text>
<line x1="123.54" y1="189.62" x2="150.31" y2="189.62" stroke="#2a2a2a" stroke-width="1.05" />
<text transform="translate(136.92 187.22) scale(0.92 1)" font-size="7.4" text-anchor="middle" fill="#222" stroke="#222" stroke-width="0.08"><tspan font-style="italic">P</tspan> &lt; .001</text>
</g>
<g id="chart-D">
<text transform="translate(179.3 176) scale(0.93 1)" font-size="12.8" text-anchor="start" fill="#000" font-weight="bold" stroke="#000" stroke-width="0.25">D</text>
<rect x="230.75" y="234.62" width="8.4" height="20.58" fill="#24397a" />
<rect x="244.95" y="235.31" width="8.4" height="19.89" fill="#9f1329" />
<rect x="268.25" y="231.85" width="8.4" height="23.35" fill="#24397a" />
<rect x="282.45" y="235.31" width="8.4" height="19.89" fill="#9f1329" />
<rect x="305.75" y="217.31" width="8.4" height="37.89" fill="#24397a" />
<rect x="319.95" y="215" width="8.4" height="40.2" fill="#9f1329" />
<line x1="234.95" y1="232.77" x2="234.95" y2="235.12" stroke="#1b2a5c" stroke-width="1" />
<line x1="232.25" y1="232.77" x2="237.65" y2="232.77" stroke="#1b2a5c" stroke-width="1" />
<line x1="249.15" y1="233.46" x2="249.15" y2="235.81" stroke="#7d0e25" stroke-width="1" />
<line x1="246.45" y1="233.46" x2="251.85" y2="233.46" stroke="#7d0e25" stroke-width="1" />
<line x1="272.45" y1="229.31" x2="272.45" y2="232.35" stroke="#1b2a5c" stroke-width="1" />
<line x1="269.75" y1="229.31" x2="275.15" y2="229.31" stroke="#1b2a5c" stroke-width="1" />
<line x1="286.65" y1="233" x2="286.65" y2="235.81" stroke="#7d0e25" stroke-width="1" />
<line x1="283.95" y1="233" x2="289.35" y2="233" stroke="#7d0e25" stroke-width="1" />
<line x1="309.95" y1="215.69" x2="309.95" y2="217.81" stroke="#1b2a5c" stroke-width="1" />
<line x1="307.25" y1="215.69" x2="312.65" y2="215.69" stroke="#1b2a5c" stroke-width="1" />
<line x1="324.15" y1="212.23" x2="324.15" y2="215.5" stroke="#7d0e25" stroke-width="1" />
<line x1="321.45" y1="212.23" x2="326.85" y2="212.23" stroke="#7d0e25" stroke-width="1" />
<line x1="222.3" y1="232.77" x2="334.2" y2="232.77" stroke="#111" stroke-width="0.8" stroke-dasharray="1.3 1.1"/>
<circle cx="232.69" cy="232.77" r="1.2" fill="#fff" fill-opacity="0.7" stroke="#3a3a3a" stroke-width="0.55"/>
<circle cx="235" cy="230.46" r="1.2" fill="#fff" fill-opacity="0.7" stroke="#3a3a3a" stroke-width="0.55"/>
<circle cx="237.31" cy="232.31" r="1.2" fill="#fff" fill-opacity="0.7" stroke="#3a3a3a" stroke-width="0.55"/>
<circle cx="234.31" cy="235.08" r="1.2" fill="#fff" fill-opacity="0.7" stroke="#3a3a3a" stroke-width="0.55"/>
<circle cx="236.15" cy="236.92" r="1.2" fill="#fff" fill-opacity="0.18" stroke="#aab3d0" stroke-opacity="0.75" stroke-width="0.5"/>
<circle cx="245.85" cy="232.31" r="1.25" fill="#0c0c0c"/>
<circle cx="248.85" cy="233.46" r="1.25" fill="#0c0c0c"/>
<circle cx="251.85" cy="231.85" r="1.25" fill="#0c0c0c"/>
<circle cx="247.69" cy="236.23" r="1.2" fill="#2a0509" fill-opacity="0.85"/>
<circle cx="250" cy="237.85" r="1.2" fill="#2a0509" fill-opacity="0.85"/>
<circle cx="272.62" cy="227.69" r="1.2" fill="#fff" fill-opacity="0.7" stroke="#3a3a3a" stroke-width="0.55"/>
<circle cx="270.31" cy="230.46" r="1.2" fill="#fff" fill-opacity="0.7" stroke="#3a3a3a" stroke-width="0.55"/>
<circle cx="274.92" cy="231.85" r="1.2" fill="#fff" fill-opacity="0.7" stroke="#3a3a3a" stroke-width="0.55"/>
<circle cx="272.15" cy="234.62" r="1.2" fill="#fff" fill-opacity="0.18" stroke="#aab3d0" stroke-opacity="0.75" stroke-width="0.5"/>
<circle cx="283.46" cy="231.15" r="1.25" fill="#0c0c0c"/>
<circle cx="286.92" cy="232.77" r="1.25" fill="#0c0c0c"/>
<circle cx="289.92" cy="231.85" r="1.25" fill="#0c0c0c"/>
<circle cx="285.54" cy="236.46" r="1.2" fill="#2a0509" fill-opacity="0.85"/>
<circle cx="288.31" cy="238.31" r="1.2" fill="#2a0509" fill-opacity="0.85"/>
<circle cx="307.23" cy="215.69" r="1.2" fill="#fff" fill-opacity="0.7" stroke="#3a3a3a" stroke-width="0.55"/>
<circle cx="309.54" cy="213.85" r="1.2" fill="#fff" fill-opacity="0.7" stroke="#3a3a3a" stroke-width="0.55"/>
<circle cx="311.85" cy="215.23" r="1.2" fill="#fff" fill-opacity="0.7" stroke="#3a3a3a" stroke-width="0.55"/>
<circle cx="313.46" cy="217.31" r="1.2" fill="#fff" fill-opacity="0.7" stroke="#3a3a3a" stroke-width="0.55"/>
<circle cx="308.62" cy="218" r="1.2" fill="#fff" fill-opacity="0.7" stroke="#3a3a3a" stroke-width="0.55"/>
<circle cx="324.31" cy="207.62" r="1.25" fill="#0c0c0c"/>
<circle cx="321.08" cy="211.08" r="1.25" fill="#0c0c0c"/>
<circle cx="327.54" cy="210.38" r="1.25" fill="#0c0c0c"/>
<circle cx="322.69" cy="215.69" r="1.25" fill="#0c0c0c"/>
<circle cx="326.15" cy="218.46" r="1.2" fill="#2a0509" fill-opacity="0.85"/>
<circle cx="324.31" cy="224.23" r="1.2" fill="#2a0509" fill-opacity="0.85"/>
<line x1="225.7" y1="185" x2="225.7" y2="255.75" stroke="#111" stroke-width="1.15" />
<line x1="225.15" y1="255.2" x2="333.7" y2="255.2" stroke="#111" stroke-width="1.15" />
<line x1="242.05" y1="255.2" x2="242.05" y2="258.1" stroke="#111" stroke-width="0.8" />
<line x1="279.55" y1="255.2" x2="279.55" y2="258.1" stroke="#111" stroke-width="0.8" />
<line x1="317.05" y1="255.2" x2="317.05" y2="258.1" stroke="#111" stroke-width="0.8" />
<line x1="222.1" y1="188.92" x2="225.7" y2="188.92" stroke="#111" stroke-width="0.9" />
<text transform="translate(219.9 191.42)" font-size="7" text-anchor="end" fill="#222" stroke="#222" stroke-width="0.1">200</text>
<line x1="222.1" y1="205.54" x2="225.7" y2="205.54" stroke="#111" stroke-width="0.9" />
<text transform="translate(219.9 208.04)" font-size="7" text-anchor="end" fill="#222" stroke="#222" stroke-width="0.1">150</text>
<line x1="222.1" y1="221.92" x2="225.7" y2="221.92" stroke="#111" stroke-width="0.9" />
<text transform="translate(219.9 224.42)" font-size="7" text-anchor="end" fill="#222" stroke="#222" stroke-width="0.1">100</text>
<line x1="222.1" y1="238.54" x2="225.7" y2="238.54" stroke="#111" stroke-width="0.9" />
<text transform="translate(219.9 241.04)" font-size="7" text-anchor="end" fill="#222" stroke="#222" stroke-width="0.1">50</text>
<line x1="222.1" y1="255.2" x2="225.7" y2="255.2" stroke="#111" stroke-width="0.9" />
<text transform="translate(219.9 257.7)" font-size="7" text-anchor="end" fill="#222" stroke="#222" stroke-width="0.1">0</text>
<text transform="translate(202.8 221.1) rotate(-90) scale(0.85 1)" font-size="9" text-anchor="middle" fill="#222" stroke="#222" stroke-width="0.16">TIBC (µmol/L)</text>
<text transform="translate(242.7 267.5)" font-size="6.6" text-anchor="middle" fill="#222" stroke="#222" stroke-width="0.12">IDD</text>
<text transform="translate(279.1 267.5)" font-size="6.6" text-anchor="middle" fill="#222" stroke="#222" stroke-width="0.12">IDD<tspan font-family="DejaVu Sans, sans-serif" font-size="6.6" dx="0.3" dy="-0.1">→</tspan><tspan dx="0.3" dy="0.1">SD</tspan></text>
<text transform="translate(319.7 267.5)" font-size="6.6" text-anchor="middle" fill="#222" letter-spacing="0.28" stroke="#222" stroke-width="0.12">IDD + holo-Tf</text>
<text transform="translate(310.46 208.92)" font-size="7" text-anchor="middle" fill="#444">a</text>
<text transform="translate(324.31 204.31)" font-size="7" text-anchor="middle" fill="#444">b</text>
</g>
<g id="chart-E">
<text transform="translate(358.8 176) scale(0.93 1)" font-size="12.8" text-anchor="start" fill="#000" font-weight="bold" stroke="#000" stroke-width="0.25">E</text>
<rect x="409.35" y="232.31" width="8.4" height="22.89" fill="#24397a" />
<rect x="423.55" y="229.54" width="8.4" height="25.66" fill="#9f1329" />
<rect x="446.85" y="225.39" width="8.4" height="29.81" fill="#24397a" />
<rect x="461.05" y="224.23" width="8.4" height="30.97" fill="#9f1329" />
<rect x="484.35" y="232.31" width="8.4" height="22.89" fill="#24397a" />
<rect x="498.55" y="237.39" width="8.4" height="17.81" fill="#9f1329" />
<line x1="413.55" y1="227.69" x2="413.55" y2="232.81" stroke="#1b2a5c" stroke-width="1" />
<line x1="410.85" y1="227.69" x2="416.25" y2="227.69" stroke="#1b2a5c" stroke-width="1" />
<line x1="427.75" y1="223.54" x2="427.75" y2="230.04" stroke="#7d0e25" stroke-width="1" />
<line x1="425.05" y1="223.54" x2="430.45" y2="223.54" stroke="#7d0e25" stroke-width="1" />
<line x1="451.05" y1="218.46" x2="451.05" y2="225.89" stroke="#1b2a5c" stroke-width="1" />
<line x1="448.35" y1="218.46" x2="453.75" y2="218.46" stroke="#1b2a5c" stroke-width="1" />
<line x1="465.25" y1="220.77" x2="465.25" y2="224.73" stroke="#7d0e25" stroke-width="1" />
<line x1="462.55" y1="220.77" x2="467.95" y2="220.77" stroke="#7d0e25" stroke-width="1" />
<line x1="488.55" y1="229.54" x2="488.55" y2="232.81" stroke="#1b2a5c" stroke-width="1" />
<line x1="485.85" y1="229.54" x2="491.25" y2="229.54" stroke="#1b2a5c" stroke-width="1" />
<line x1="502.75" y1="231.85" x2="502.75" y2="237.89" stroke="#7d0e25" stroke-width="1" />
<line x1="500.05" y1="231.85" x2="505.45" y2="231.85" stroke="#7d0e25" stroke-width="1" />
<line x1="400.9" y1="230.46" x2="512.8" y2="230.46" stroke="#111" stroke-width="0.8" stroke-dasharray="1.3 1.1"/>
<circle cx="413.46" cy="220.31" r="1.2" fill="#fff" fill-opacity="0.7" stroke="#3a3a3a" stroke-width="0.55"/>
<circle cx="413.46" cy="225.39" r="1.2" fill="#fff" fill-opacity="0.7" stroke="#3a3a3a" stroke-width="0.55"/>
<circle cx="410.69" cy="232.77" r="1.2" fill="#fff" fill-opacity="0.7" stroke="#3a3a3a" stroke-width="0.55"/>
<circle cx="416" cy="234.62" r="1.2" fill="#fff" fill-opacity="0.18" stroke="#aab3d0" stroke-opacity="0.75" stroke-width="0.5"/>
<circle cx="412.31" cy="237.39" r="1.2" fill="#fff" fill-opacity="0.18" stroke="#aab3d0" stroke-opacity="0.75" stroke-width="0.5"/>
<circle cx="415.08" cy="238.31" r="1.2" fill="#fff" fill-opacity="0.18" stroke="#aab3d0" stroke-opacity="0.75" stroke-width="0.5"/>
<circle cx="427.54" cy="210.38" r="1.25" fill="#0c0c0c"/>
<circle cx="427.54" cy="216.85" r="1.25" fill="#0c0c0c"/>
<circle cx="431" cy="229.08" r="1.25" fill="#0c0c0c"/>
<circle cx="425.69" cy="232.31" r="1.2" fill="#2a0509" fill-opacity="0.85"/>
<circle cx="428" cy="251.92" r="1.2" fill="#2a0509" fill-opacity="0.85"/>
<circle cx="451.54" cy="204.15" r="1.2" fill="#fff" fill-opacity="0.7" stroke="#3a3a3a" stroke-width="0.55"/>
<circle cx="447.62" cy="217.31" r="1.2" fill="#fff" fill-opacity="0.7" stroke="#3a3a3a" stroke-width="0.55"/>
<circle cx="454.54" cy="219.15" r="1.2" fill="#fff" fill-opacity="0.7" stroke="#3a3a3a" stroke-width="0.55"/>
<circle cx="450.62" cy="236.92" r="1.2" fill="#fff" fill-opacity="0.18" stroke="#aab3d0" stroke-opacity="0.75" stroke-width="0.5"/>
<circle cx="451.54" cy="243.85" r="1.2" fill="#fff" fill-opacity="0.18" stroke="#aab3d0" stroke-opacity="0.75" stroke-width="0.5"/>
<circle cx="465.39" cy="213.38" r="1.25" fill="#0c0c0c"/>
<circle cx="462.15" cy="222.62" r="1.25" fill="#0c0c0c"/>
<circle cx="468.39" cy="221" r="1.25" fill="#0c0c0c"/>
<circle cx="465.39" cy="225.39" r="1.2" fill="#2a0509" fill-opacity="0.85"/>
<circle cx="465.39" cy="242" r="1.2" fill="#2a0509" fill-opacity="0.85"/>
<circle cx="488.46" cy="221.23" r="1.2" fill="#fff" fill-opacity="0.7" stroke="#3a3a3a" stroke-width="0.55"/>
<circle cx="485.69" cy="231.85" r="1.2" fill="#fff" fill-opacity="0.7" stroke="#3a3a3a" stroke-width="0.55"/>
<circle cx="488.46" cy="232.77" r="1.2" fill="#fff" fill-opacity="0.7" stroke="#3a3a3a" stroke-width="0.55"/>
<circle cx="491.23" cy="231.85" r="1.2" fill="#fff" fill-opacity="0.7" stroke="#3a3a3a" stroke-width="0.55"/>
<circle cx="487.08" cy="235.08" r="1.2" fill="#fff" fill-opacity="0.18" stroke="#aab3d0" stroke-opacity="0.75" stroke-width="0.5"/>
<circle cx="503" cy="218.92" r="1.25" fill="#0c0c0c"/>
<circle cx="499.54" cy="235.08" r="1.25" fill="#0c0c0c"/>
<circle cx="504.15" cy="239.23" r="1.2" fill="#2a0509" fill-opacity="0.85"/>
<circle cx="499.54" cy="247.54" r="1.2" fill="#2a0509" fill-opacity="0.85"/>
<circle cx="506" cy="247.54" r="1.2" fill="#2a0509" fill-opacity="0.85"/>
<line x1="404.3" y1="185" x2="404.3" y2="255.75" stroke="#111" stroke-width="1.15" />
<line x1="403.75" y1="255.2" x2="512.3" y2="255.2" stroke="#111" stroke-width="1.15" />
<line x1="420.65" y1="255.2" x2="420.65" y2="258.1" stroke="#111" stroke-width="0.8" />
<line x1="458.15" y1="255.2" x2="458.15" y2="258.1" stroke="#111" stroke-width="0.8" />
<line x1="495.65" y1="255.2" x2="495.65" y2="258.1" stroke="#111" stroke-width="0.8" />
<line x1="400.7" y1="188.46" x2="404.3" y2="188.46" stroke="#111" stroke-width="0.9" />
<text transform="translate(398.5 190.96)" font-size="7" text-anchor="end" fill="#222" stroke="#222" stroke-width="0.1">1.5</text>
<line x1="400.7" y1="211.08" x2="404.3" y2="211.08" stroke="#111" stroke-width="0.9" />
<text transform="translate(398.5 213.58)" font-size="7" text-anchor="end" fill="#222" stroke="#222" stroke-width="0.1">1.0</text>
<line x1="400.7" y1="232.77" x2="404.3" y2="232.77" stroke="#111" stroke-width="0.9" />
<text transform="translate(398.5 235.27)" font-size="7" text-anchor="end" fill="#222" stroke="#222" stroke-width="0.1">0.5</text>
<line x1="400.7" y1="255.2" x2="404.3" y2="255.2" stroke="#111" stroke-width="0.9" />
<text transform="translate(398.5 257.7)" font-size="7" text-anchor="end" fill="#222" stroke="#222" stroke-width="0.1">0</text>
<text transform="translate(382 219.7) rotate(-90) scale(0.81 1)" font-size="9" text-anchor="middle" fill="#222" stroke="#222" stroke-width="0.16">Serum NTBI (µmol/L)</text>
<text transform="translate(421.3 267.5)" font-size="6.6" text-anchor="middle" fill="#222" stroke="#222" stroke-width="0.12">IDD</text>
<text transform="translate(457.7 267.5)" font-size="6.6" text-anchor="middle" fill="#222" stroke="#222" stroke-width="0.12">IDD<tspan font-family="DejaVu Sans, sans-serif" font-size="6.6" dx="0.3" dy="-0.1">→</tspan><tspan dx="0.3" dy="0.1">SD</tspan></text>
<text transform="translate(498.3 267.5)" font-size="6.6" text-anchor="middle" fill="#222" letter-spacing="0.28" stroke="#222" stroke-width="0.12">IDD + holo-Tf</text>
</g>
<g id="chart-F">
<text transform="translate(1 295.6) scale(0.93 1)" font-size="12.8" text-anchor="start" fill="#000" font-weight="bold" stroke="#000" stroke-width="0.25">F</text>
<rect x="50.95" y="356.92" width="8.4" height="17.28" fill="#24397a" />
<rect x="65.15" y="348.15" width="8.4" height="26.05" fill="#9f1329" />
<rect x="88.45" y="352.31" width="8.4" height="21.89" fill="#24397a" />
<rect x="102.65" y="337.31" width="8.4" height="36.89" fill="#9f1329" />
<rect x="125.95" y="354.62" width="8.4" height="19.58" fill="#24397a" />
<rect x="140.15" y="348.15" width="8.4" height="26.05" fill="#9f1329" />
<line x1="55.15" y1="354.15" x2="55.15" y2="357.42" stroke="#1b2a5c" stroke-width="1" />
<line x1="52.45" y1="354.15" x2="57.85" y2="354.15" stroke="#1b2a5c" stroke-width="1" />
<line x1="69.35" y1="343.08" x2="69.35" y2="348.65" stroke="#7d0e25" stroke-width="1" />
<line x1="66.65" y1="343.08" x2="72.05" y2="343.08" stroke="#7d0e25" stroke-width="1" />
<line x1="92.65" y1="349.54" x2="92.65" y2="352.81" stroke="#1b2a5c" stroke-width="1" />
<line x1="89.95" y1="349.54" x2="95.35" y2="349.54" stroke="#1b2a5c" stroke-width="1" />
<line x1="106.85" y1="331.08" x2="106.85" y2="337.81" stroke="#7d0e25" stroke-width="1" />
<line x1="104.15" y1="331.08" x2="109.55" y2="331.08" stroke="#7d0e25" stroke-width="1" />
<line x1="130.15" y1="352.31" x2="130.15" y2="355.12" stroke="#1b2a5c" stroke-width="1" />
<line x1="127.45" y1="352.31" x2="132.85" y2="352.31" stroke="#1b2a5c" stroke-width="1" />
<line x1="144.35" y1="345.39" x2="144.35" y2="348.65" stroke="#7d0e25" stroke-width="1" />
<line x1="141.65" y1="345.39" x2="147.05" y2="345.39" stroke="#7d0e25" stroke-width="1" />
<line x1="42.5" y1="349.54" x2="154.4" y2="349.54" stroke="#111" stroke-width="0.8" stroke-dasharray="1.3 1.1"/>
<circle cx="55.46" cy="346.08" r="1.2" fill="#fff" fill-opacity="0.7" stroke="#3a3a3a" stroke-width="0.55"/>
<circle cx="52.69" cy="352.31" r="1.2" fill="#fff" fill-opacity="0.7" stroke="#3a3a3a" stroke-width="0.55"/>
<circle cx="54.31" cy="355.08" r="1.2" fill="#fff" fill-opacity="0.7" stroke="#3a3a3a" stroke-width="0.55"/>
<circle cx="57.08" cy="354.15" r="1.2" fill="#fff" fill-opacity="0.7" stroke="#3a3a3a" stroke-width="0.55"/>
<circle cx="58.46" cy="356.46" r="1.2" fill="#fff" fill-opacity="0.7" stroke="#3a3a3a" stroke-width="0.55"/>
<circle cx="69.31" cy="328.77" r="1.25" fill="#0c0c0c"/>
<circle cx="69.31" cy="341.23" r="1.25" fill="#0c0c0c"/>
<circle cx="73" cy="349.08" r="1.2" fill="#2a0509" fill-opacity="0.85"/>
<circle cx="69.31" cy="358.31" r="1.2" fill="#2a0509" fill-opacity="0.85"/>
<circle cx="69.31" cy="363.39" r="1.2" fill="#2a0509" fill-opacity="0.85"/>
<circle cx="90.77" cy="347" r="1.2" fill="#fff" fill-opacity="0.7" stroke="#3a3a3a" stroke-width="0.55"/>
<circle cx="94.46" cy="345.39" r="1.2" fill="#fff" fill-opacity="0.7" stroke="#3a3a3a" stroke-width="0.55"/>
<circle cx="89.38" cy="350.46" r="1.2" fill="#fff" fill-opacity="0.7" stroke="#3a3a3a" stroke-width="0.55"/>
<circle cx="92.62" cy="351.85" r="1.2" fill="#fff" fill-opacity="0.7" stroke="#3a3a3a" stroke-width="0.55"/>
<circle cx="95.39" cy="350.46" r="1.2" fill="#fff" fill-opacity="0.7" stroke="#3a3a3a" stroke-width="0.55"/>
<circle cx="106.92" cy="319.54" r="1.25" fill="#0c0c0c"/>
<circle cx="106.92" cy="331.54" r="1.25" fill="#0c0c0c"/>
<circle cx="109.23" cy="342.15" r="1.2" fill="#2a0509" fill-opacity="0.85"/>
<circle cx="106.92" cy="351.15" r="1.2" fill="#2a0509" fill-opacity="0.85"/>
<circle cx="127.69" cy="350.46" r="1.2" fill="#fff" fill-opacity="0.7" stroke="#3a3a3a" stroke-width="0.55"/>
<circle cx="130.46" cy="348.85" r="1.2" fill="#fff" fill-opacity="0.7" stroke="#3a3a3a" stroke-width="0.55"/>
<circle cx="133.23" cy="350.46" r="1.2" fill="#fff" fill-opacity="0.7" stroke="#3a3a3a" stroke-width="0.55"/>
<circle cx="129.08" cy="353.46" r="1.2" fill="#fff" fill-opacity="0.7" stroke="#3a3a3a" stroke-width="0.55"/>
<circle cx="131.85" cy="354.15" r="1.2" fill="#fff" fill-opacity="0.7" stroke="#3a3a3a" stroke-width="0.55"/>
<circle cx="141.54" cy="343.08" r="1.25" fill="#0c0c0c"/>
<circle cx="148" cy="343.54" r="1.25" fill="#0c0c0c"/>
<circle cx="145" cy="346.77" r="1.25" fill="#0c0c0c"/>
<circle cx="142.69" cy="352.31" r="1.2" fill="#2a0509" fill-opacity="0.85"/>
<circle cx="146.15" cy="351.15" r="1.2" fill="#2a0509" fill-opacity="0.85"/>
<line x1="45.9" y1="304.5" x2="45.9" y2="374.75" stroke="#111" stroke-width="1.15" />
<line x1="45.35" y1="374.2" x2="153.9" y2="374.2" stroke="#111" stroke-width="1.15" />
<line x1="62.25" y1="374.2" x2="62.25" y2="377.1" stroke="#111" stroke-width="0.8" />
<line x1="99.75" y1="374.2" x2="99.75" y2="377.1" stroke="#111" stroke-width="0.8" />
<line x1="137.25" y1="374.2" x2="137.25" y2="377.1" stroke="#111" stroke-width="0.8" />
<line x1="42.3" y1="307.31" x2="45.9" y2="307.31" stroke="#111" stroke-width="0.9" />
<text transform="translate(40.1 309.81)" font-size="7" text-anchor="end" fill="#222" stroke="#222" stroke-width="0.1">600</text>
<line x1="42.3" y1="329.69" x2="45.9" y2="329.69" stroke="#111" stroke-width="0.9" />
<text transform="translate(40.1 332.19)" font-size="7" text-anchor="end" fill="#222" stroke="#222" stroke-width="0.1">400</text>
<line x1="42.3" y1="351.85" x2="45.9" y2="351.85" stroke="#111" stroke-width="0.9" />
<text transform="translate(40.1 354.35)" font-size="7" text-anchor="end" fill="#222" stroke="#222" stroke-width="0.1">200</text>
<line x1="42.3" y1="374.2" x2="45.9" y2="374.2" stroke="#111" stroke-width="0.9" />
<text transform="translate(40.1 376.7)" font-size="7" text-anchor="end" fill="#222" stroke="#222" stroke-width="0.1">0</text>
<text transform="translate(22.3 340.3) rotate(-90) scale(0.76 1)" font-size="9" text-anchor="middle" fill="#222" stroke="#222" stroke-width="0.16">LIC (µg Fe/g dry tissue)</text>
<text transform="translate(62.9 386.5)" font-size="6.6" text-anchor="middle" fill="#222" stroke="#222" stroke-width="0.12">IDD</text>
<text transform="translate(99.3 386.5)" font-size="6.6" text-anchor="middle" fill="#222" stroke="#222" stroke-width="0.12">IDD<tspan font-family="DejaVu Sans, sans-serif" font-size="6.6" dx="0.3" dy="-0.1">→</tspan><tspan dx="0.3" dy="0.1">SD</tspan></text>
<text transform="translate(139.9 386.5)" font-size="6.6" text-anchor="middle" fill="#222" letter-spacing="0.28" stroke="#222" stroke-width="0.12">IDD + holo-Tf</text>
<line x1="50.38" y1="313.77" x2="85" y2="313.77" stroke="#2a2a2a" stroke-width="1.05" />
<text transform="translate(67.69 311.37) scale(0.92 1)" font-size="7.4" text-anchor="middle" fill="#222" stroke="#222" stroke-width="0.08"><tspan font-style="italic">P</tspan> = .092</text>
<line x1="89.15" y1="313.77" x2="115" y2="313.77" stroke="#2a2a2a" stroke-width="1.05" />
<text transform="translate(102.31 311.37) scale(0.92 1)" font-size="7.4" text-anchor="middle" fill="#222" stroke="#222" stroke-width="0.08"><tspan font-style="italic">P</tspan> &lt; .05</text>
<line x1="125.39" y1="313.77" x2="151.92" y2="313.77" stroke="#2a2a2a" stroke-width="1.05" />
<text transform="translate(138.77 311.37) scale(0.92 1)" font-size="7.4" text-anchor="middle" fill="#222" stroke="#222" stroke-width="0.08"><tspan font-style="italic">P</tspan> &lt; .05</text>
</g>
<g id="chart-G">
<text transform="translate(179.5 295.6) scale(0.93 1)" font-size="12.8" text-anchor="start" fill="#000" font-weight="bold" stroke="#000" stroke-width="0.25">G</text>
<rect x="232.15" y="359.23" width="8.4" height="14.97" fill="#24397a" />
<rect x="246.35" y="359.92" width="8.4" height="14.28" fill="#9f1329" />
<rect x="269.65" y="360.39" width="8.4" height="13.81" fill="#24397a" />
<rect x="283.85" y="355.08" width="8.4" height="19.12" fill="#9f1329" />
<rect x="307.15" y="338.46" width="8.4" height="35.74" fill="#24397a" />
<rect x="321.35" y="332" width="8.4" height="42.2" fill="#9f1329" />
<line x1="236.35" y1="345.39" x2="236.35" y2="371.92" stroke="#111" stroke-width="1" />
<line x1="233.65" y1="345.39" x2="239.05" y2="345.39" stroke="#111" stroke-width="1" />
<line x1="233.65" y1="371.92" x2="239.05" y2="371.92" stroke="#111" stroke-width="1" />
<line x1="250.55" y1="349.31" x2="250.55" y2="369.62" stroke="#111" stroke-width="1" />
<line x1="247.85" y1="349.31" x2="253.25" y2="349.31" stroke="#111" stroke-width="1" />
<line x1="247.85" y1="369.62" x2="253.25" y2="369.62" stroke="#111" stroke-width="1" />
<line x1="273.85" y1="356.46" x2="273.85" y2="363.85" stroke="#111" stroke-width="1" />
<line x1="271.15" y1="356.46" x2="276.55" y2="356.46" stroke="#111" stroke-width="1" />
<line x1="271.15" y1="363.85" x2="276.55" y2="363.85" stroke="#111" stroke-width="1" />
<line x1="288.05" y1="350.46" x2="288.05" y2="359.23" stroke="#111" stroke-width="1" />
<line x1="285.35" y1="350.46" x2="290.75" y2="350.46" stroke="#111" stroke-width="1" />
<line x1="285.35" y1="359.23" x2="290.75" y2="359.23" stroke="#111" stroke-width="1" />
<line x1="311.35" y1="331.54" x2="311.35" y2="344.92" stroke="#111" stroke-width="1" />
<line x1="308.65" y1="331.54" x2="314.05" y2="331.54" stroke="#111" stroke-width="1" />
<line x1="308.65" y1="344.92" x2="314.05" y2="344.92" stroke="#111" stroke-width="1" />
<line x1="325.55" y1="319.54" x2="325.55" y2="344.23" stroke="#111" stroke-width="1" />
<line x1="322.85" y1="319.54" x2="328.25" y2="319.54" stroke="#111" stroke-width="1" />
<line x1="322.85" y1="344.23" x2="328.25" y2="344.23" stroke="#111" stroke-width="1" />
<line x1="223.7" y1="351.85" x2="335.6" y2="351.85" stroke="#111" stroke-width="0.8" stroke-dasharray="1.3 1.1"/>
<circle cx="236.15" cy="330.85" r="1.2" fill="#fff" fill-opacity="0.7" stroke="#3a3a3a" stroke-width="0.55"/>
<circle cx="233.38" cy="353.46" r="1.2" fill="#fff" fill-opacity="0.7" stroke="#3a3a3a" stroke-width="0.55"/>
<circle cx="239.62" cy="353.46" r="1.2" fill="#fff" fill-opacity="0.7" stroke="#3a3a3a" stroke-width="0.55"/>
<circle cx="235" cy="361.54" r="1.2" fill="#fff" fill-opacity="0.18" stroke="#aab3d0" stroke-opacity="0.75" stroke-width="0.5"/>
<circle cx="238" cy="365" r="1.2" fill="#fff" fill-opacity="0.18" stroke="#aab3d0" stroke-opacity="0.75" stroke-width="0.5"/>
<circle cx="235.69" cy="368.46" r="1.2" fill="#fff" fill-opacity="0.18" stroke="#aab3d0" stroke-opacity="0.75" stroke-width="0.5"/>
<circle cx="250" cy="339.62" r="1.25" fill="#0c0c0c"/>
<circle cx="253" cy="360.39" r="1.25" fill="#0c0c0c"/>
<circle cx="247.69" cy="363.85" r="1.2" fill="#2a0509" fill-opacity="0.85"/>
<circle cx="250" cy="366.15" r="1.2" fill="#2a0509" fill-opacity="0.85"/>
<circle cx="251.85" cy="368.92" r="1.2" fill="#2a0509" fill-opacity="0.85"/>
<circle cx="273.54" cy="352.77" r="1.2" fill="#fff" fill-opacity="0.7" stroke="#3a3a3a" stroke-width="0.55"/>
<circle cx="271.23" cy="357.39" r="1.2" fill="#fff" fill-opacity="0.7" stroke="#3a3a3a" stroke-width="0.55"/>
<circle cx="276.31" cy="358.31" r="1.2" fill="#fff" fill-opacity="0.7" stroke="#3a3a3a" stroke-width="0.55"/>
<circle cx="273.08" cy="360.62" r="1.2" fill="#fff" fill-opacity="0.7" stroke="#3a3a3a" stroke-width="0.55"/>
<circle cx="274.92" cy="362" r="1.2" fill="#fff" fill-opacity="0.18" stroke="#aab3d0" stroke-opacity="0.75" stroke-width="0.5"/>
<circle cx="286.92" cy="350.46" r="1.25" fill="#0c0c0c"/>
<circle cx="290.85" cy="351.15" r="1.25" fill="#0c0c0c"/>
<circle cx="286.92" cy="354.62" r="1.25" fill="#0c0c0c"/>
<circle cx="289.23" cy="356.92" r="1.2" fill="#2a0509" fill-opacity="0.85"/>
<circle cx="311.85" cy="326.23" r="1.2" fill="#fff" fill-opacity="0.7" stroke="#3a3a3a" stroke-width="0.55"/>
<circle cx="311.85" cy="332.69" r="1.2" fill="#fff" fill-opacity="0.7" stroke="#3a3a3a" stroke-width="0.55"/>
<circle cx="308.85" cy="337.31" r="1.2" fill="#fff" fill-opacity="0.7" stroke="#3a3a3a" stroke-width="0.55"/>
<circle cx="314.15" cy="338" r="1.2" fill="#fff" fill-opacity="0.7" stroke="#3a3a3a" stroke-width="0.55"/>
<circle cx="310.46" cy="340.77" r="1.2" fill="#fff" fill-opacity="0.18" stroke="#aab3d0" stroke-opacity="0.75" stroke-width="0.5"/>
<circle cx="312.77" cy="342.62" r="1.2" fill="#fff" fill-opacity="0.18" stroke="#aab3d0" stroke-opacity="0.75" stroke-width="0.5"/>
<circle cx="321.54" cy="318.15" r="1.25" fill="#0c0c0c"/>
<circle cx="328" cy="320" r="1.25" fill="#0c0c0c"/>
<circle cx="321.54" cy="322.31" r="1.25" fill="#0c0c0c"/>
<circle cx="325" cy="331.54" r="1.25" fill="#0c0c0c"/>
<circle cx="322.69" cy="342.15" r="1.2" fill="#2a0509" fill-opacity="0.85"/>
<circle cx="328" cy="342.15" r="1.2" fill="#2a0509" fill-opacity="0.85"/>
<line x1="227.1" y1="304.3" x2="227.1" y2="374.75" stroke="#111" stroke-width="1.15" />
<line x1="226.55" y1="374.2" x2="335.1" y2="374.2" stroke="#111" stroke-width="1.15" />
<line x1="243.45" y1="374.2" x2="243.45" y2="377.1" stroke="#111" stroke-width="0.8" />
<line x1="280.95" y1="374.2" x2="280.95" y2="377.1" stroke="#111" stroke-width="0.8" />
<line x1="318.45" y1="374.2" x2="318.45" y2="377.1" stroke="#111" stroke-width="0.8" />
<line x1="223.5" y1="307.31" x2="227.1" y2="307.31" stroke="#111" stroke-width="0.9" />
<text transform="translate(221.3 309.81)" font-size="7" text-anchor="end" fill="#222" stroke="#222" stroke-width="0.1">3</text>
<line x1="223.5" y1="329.69" x2="227.1" y2="329.69" stroke="#111" stroke-width="0.9" />
<text transform="translate(221.3 332.19)" font-size="7" text-anchor="end" fill="#222" stroke="#222" stroke-width="0.1">2</text>
<line x1="223.5" y1="351.85" x2="227.1" y2="351.85" stroke="#111" stroke-width="0.9" />
<text transform="translate(221.3 354.35)" font-size="7" text-anchor="end" fill="#222" stroke="#222" stroke-width="0.1">1</text>
<line x1="223.5" y1="374.2" x2="227.1" y2="374.2" stroke="#111" stroke-width="0.9" />
<text transform="translate(221.3 376.7)" font-size="7" text-anchor="end" fill="#222" stroke="#222" stroke-width="0.1">0</text>
<text transform="translate(200.1 338.7) rotate(-90) scale(0.83 1)" font-size="8.8" text-anchor="middle" fill="#222" stroke="#222" stroke-width="0.16"><tspan font-style="italic">Bmp6/Rpl19</tspan> mRNA</text>
<text transform="translate(210.1 338.7) rotate(-90) scale(0.89 1)" font-size="8.8" text-anchor="middle" fill="#222" stroke="#222" stroke-width="0.16">(fold induction)</text>
<text transform="translate(244.1 386.5)" font-size="6.6" text-anchor="middle" fill="#222" stroke="#222" stroke-width="0.12">IDD</text>
<text transform="translate(280.5 386.5)" font-size="6.6" text-anchor="middle" fill="#222" stroke="#222" stroke-width="0.12">IDD<tspan font-family="DejaVu Sans, sans-serif" font-size="6.6" dx="0.3" dy="-0.1">→</tspan><tspan dx="0.3" dy="0.1">SD</tspan></text>
<text transform="translate(321.1 386.5)" font-size="6.6" text-anchor="middle" fill="#222" letter-spacing="0.28" stroke="#222" stroke-width="0.12">IDD + holo-Tf</text>
<text transform="translate(311.85 322)" font-size="7" text-anchor="middle" fill="#444">a</text>
<text transform="translate(326.15 312.77)" font-size="7" text-anchor="middle" fill="#444">b</text>
<line x1="267.31" y1="313.77" x2="295" y2="313.77" stroke="#2a2a2a" stroke-width="1.05" />
<text transform="translate(281.15 311.37) scale(0.92 1)" font-size="7.4" text-anchor="middle" fill="#222" stroke="#222" stroke-width="0.08"><tspan font-style="italic">P</tspan> &lt; .05</text>
</g>
<g id="chart-H">
<text transform="translate(358.5 295.6) scale(0.93 1)" font-size="12.8" text-anchor="start" fill="#000" font-weight="bold" stroke="#000" stroke-width="0.25">H</text>
<rect x="409.35" y="364.54" width="8.4" height="9.66" fill="#24397a" />
<rect x="423.55" y="365.46" width="8.4" height="8.74" fill="#9f1329" />
<rect x="446.85" y="363.85" width="8.4" height="10.35" fill="#24397a" />
<rect x="461.05" y="366.15" width="8.4" height="8.05" fill="#9f1329" />
<rect x="484.35" y="329.69" width="8.4" height="44.51" fill="#24397a" />
<rect x="498.55" y="335" width="8.4" height="39.2" fill="#9f1329" />
<line x1="413.55" y1="356.46" x2="413.55" y2="371.92" stroke="#111" stroke-width="1" />
<line x1="410.85" y1="356.46" x2="416.25" y2="356.46" stroke="#111" stroke-width="1" />
<line x1="410.85" y1="371.92" x2="416.25" y2="371.92" stroke="#111" stroke-width="1" />
<line x1="427.75" y1="358.77" x2="427.75" y2="371.23" stroke="#111" stroke-width="1" />
<line x1="425.05" y1="358.77" x2="430.45" y2="358.77" stroke="#111" stroke-width="1" />
<line x1="425.05" y1="371.23" x2="430.45" y2="371.23" stroke="#111" stroke-width="1" />
<line x1="451.05" y1="361.54" x2="451.05" y2="366.15" stroke="#111" stroke-width="1" />
<line x1="448.35" y1="361.54" x2="453.75" y2="361.54" stroke="#111" stroke-width="1" />
<line x1="448.35" y1="366.15" x2="453.75" y2="366.15" stroke="#111" stroke-width="1" />
<line x1="465.25" y1="362" x2="465.25" y2="369.85" stroke="#111" stroke-width="1" />
<line x1="462.55" y1="362" x2="467.95" y2="362" stroke="#111" stroke-width="1" />
<line x1="462.55" y1="369.85" x2="467.95" y2="369.85" stroke="#111" stroke-width="1" />
<line x1="488.55" y1="324.62" x2="488.55" y2="333.85" stroke="#111" stroke-width="1" />
<line x1="485.85" y1="324.62" x2="491.25" y2="324.62" stroke="#111" stroke-width="1" />
<line x1="485.85" y1="333.85" x2="491.25" y2="333.85" stroke="#111" stroke-width="1" />
<line x1="502.75" y1="324.15" x2="502.75" y2="345.39" stroke="#111" stroke-width="1" />
<line x1="500.05" y1="324.15" x2="505.45" y2="324.15" stroke="#111" stroke-width="1" />
<line x1="500.05" y1="345.39" x2="505.45" y2="345.39" stroke="#111" stroke-width="1" />
<line x1="400.9" y1="362.23" x2="512.8" y2="362.23" stroke="#111" stroke-width="0.8" stroke-dasharray="1.3 1.1"/>
<circle cx="413.69" cy="352.77" r="1.2" fill="#fff" fill-opacity="0.7" stroke="#3a3a3a" stroke-width="0.55"/>
<circle cx="410.69" cy="358.54" r="1.2" fill="#fff" fill-opacity="0.7" stroke="#3a3a3a" stroke-width="0.55"/>
<circle cx="416.46" cy="358.54" r="1.2" fill="#fff" fill-opacity="0.7" stroke="#3a3a3a" stroke-width="0.55"/>
<circle cx="412.31" cy="364.31" r="1.2" fill="#fff" fill-opacity="0.7" stroke="#3a3a3a" stroke-width="0.55"/>
<circle cx="415.08" cy="366.15" r="1.2" fill="#fff" fill-opacity="0.18" stroke="#aab3d0" stroke-opacity="0.75" stroke-width="0.5"/>
<circle cx="427.54" cy="354.15" r="1.25" fill="#0c0c0c"/>
<circle cx="431" cy="361.54" r="1.25" fill="#0c0c0c"/>
<circle cx="425.69" cy="363.85" r="1.25" fill="#0c0c0c"/>
<circle cx="429.15" cy="366.15" r="1.25" fill="#0c0c0c"/>
<circle cx="427.54" cy="368.46" r="1.2" fill="#2a0509" fill-opacity="0.85"/>
<circle cx="454.54" cy="360.39" r="1.2" fill="#fff" fill-opacity="0.7" stroke="#3a3a3a" stroke-width="0.55"/>
<circle cx="449.92" cy="361.54" r="1.2" fill="#fff" fill-opacity="0.7" stroke="#3a3a3a" stroke-width="0.55"/>
<circle cx="452.23" cy="362.23" r="1.2" fill="#fff" fill-opacity="0.7" stroke="#3a3a3a" stroke-width="0.55"/>
<circle cx="450.62" cy="365.23" r="1.2" fill="#fff" fill-opacity="0.18" stroke="#aab3d0" stroke-opacity="0.75" stroke-width="0.5"/>
<circle cx="453.39" cy="366.15" r="1.2" fill="#fff" fill-opacity="0.18" stroke="#aab3d0" stroke-opacity="0.75" stroke-width="0.5"/>
<circle cx="465.39" cy="357.39" r="1.25" fill="#0c0c0c"/>
<circle cx="463.77" cy="361.54" r="1.25" fill="#0c0c0c"/>
<circle cx="466.77" cy="362.92" r="1.25" fill="#0c0c0c"/>
<circle cx="464.92" cy="366.15" r="1.25" fill="#0c0c0c"/>
<circle cx="466.31" cy="368.46" r="1.2" fill="#2a0509" fill-opacity="0.85"/>
<circle cx="488" cy="321.85" r="1.2" fill="#fff" fill-opacity="0.7" stroke="#3a3a3a" stroke-width="0.55"/>
<circle cx="490.54" cy="321.85" r="1.2" fill="#fff" fill-opacity="0.7" stroke="#3a3a3a" stroke-width="0.55"/>
<circle cx="489.15" cy="326.92" r="1.2" fill="#fff" fill-opacity="0.7" stroke="#3a3a3a" stroke-width="0.55"/>
<circle cx="487.08" cy="329.69" r="1.2" fill="#fff" fill-opacity="0.7" stroke="#3a3a3a" stroke-width="0.55"/>
<circle cx="491.23" cy="331.08" r="1.2" fill="#fff" fill-opacity="0.18" stroke="#aab3d0" stroke-opacity="0.75" stroke-width="0.5"/>
<circle cx="489.39" cy="332.92" r="1.2" fill="#fff" fill-opacity="0.18" stroke="#aab3d0" stroke-opacity="0.75" stroke-width="0.5"/>
<circle cx="503" cy="319.54" r="1.25" fill="#0c0c0c"/>
<circle cx="499.54" cy="325.77" r="1.25" fill="#0c0c0c"/>
<circle cx="506" cy="326.92" r="1.25" fill="#0c0c0c"/>
<circle cx="499.54" cy="337.54" r="1.2" fill="#2a0509" fill-opacity="0.85"/>
<circle cx="503" cy="339.85" r="1.2" fill="#2a0509" fill-opacity="0.85"/>
<circle cx="500.69" cy="343.77" r="1.2" fill="#2a0509" fill-opacity="0.85"/>
<circle cx="506" cy="342.15" r="1.2" fill="#2a0509" fill-opacity="0.85"/>
<line x1="404.3" y1="304.3" x2="404.3" y2="374.75" stroke="#111" stroke-width="1.15" />
<line x1="403.75" y1="374.2" x2="512.3" y2="374.2" stroke="#111" stroke-width="1.15" />
<line x1="420.65" y1="374.2" x2="420.65" y2="377.1" stroke="#111" stroke-width="0.8" />
<line x1="458.15" y1="374.2" x2="458.15" y2="377.1" stroke="#111" stroke-width="0.8" />
<line x1="495.65" y1="374.2" x2="495.65" y2="377.1" stroke="#111" stroke-width="0.8" />
<line x1="400.7" y1="307.31" x2="404.3" y2="307.31" stroke="#111" stroke-width="0.9" />
<text transform="translate(398.5 309.81)" font-size="7" text-anchor="end" fill="#222" stroke="#222" stroke-width="0.1">6</text>
<line x1="400.7" y1="329.69" x2="404.3" y2="329.69" stroke="#111" stroke-width="0.9" />
<text transform="translate(398.5 332.19)" font-size="7" text-anchor="end" fill="#222" stroke="#222" stroke-width="0.1">4</text>
<line x1="400.7" y1="351.85" x2="404.3" y2="351.85" stroke="#111" stroke-width="0.9" />
<text transform="translate(398.5 354.35)" font-size="7" text-anchor="end" fill="#222" stroke="#222" stroke-width="0.1">2</text>
<line x1="400.7" y1="374.2" x2="404.3" y2="374.2" stroke="#111" stroke-width="0.9" />
<text transform="translate(398.5 376.7)" font-size="7" text-anchor="end" fill="#222" stroke="#222" stroke-width="0.1">0</text>
<text transform="translate(377.3 338.7) rotate(-90) scale(0.83 1)" font-size="8.8" text-anchor="middle" fill="#222" stroke="#222" stroke-width="0.16"><tspan font-style="italic">Bmp2/Rpl19</tspan> mRNA</text>
<text transform="translate(387.3 338.7) rotate(-90) scale(0.89 1)" font-size="8.8" text-anchor="middle" fill="#222" stroke="#222" stroke-width="0.16">(fold induction)</text>
<text transform="translate(421.3 386.5)" font-size="6.6" text-anchor="middle" fill="#222" stroke="#222" stroke-width="0.12">IDD</text>
<text transform="translate(457.7 386.5)" font-size="6.6" text-anchor="middle" fill="#222" stroke="#222" stroke-width="0.12">IDD<tspan font-family="DejaVu Sans, sans-serif" font-size="6.6" dx="0.3" dy="-0.1">→</tspan><tspan dx="0.3" dy="0.1">SD</tspan></text>
<text transform="translate(498.3 386.5)" font-size="6.6" text-anchor="middle" fill="#222" letter-spacing="0.28" stroke="#222" stroke-width="0.12">IDD + holo-Tf</text>
<text transform="translate(489.62 317.38)" font-size="7" text-anchor="middle" fill="#444">a</text>
<text transform="translate(503.69 315.08)" font-size="7" text-anchor="middle" fill="#444">b</text>
</g>
<g id="chart-I">
<text transform="translate(1.8 416.1) scale(0.93 1)" font-size="12.8" text-anchor="start" fill="#000" font-weight="bold" stroke="#000" stroke-width="0.25">I</text>
<rect x="50.95" y="482" width="8.4" height="10.9" fill="#24397a" />
<rect x="65.15" y="484.54" width="8.4" height="8.36" fill="#9f1329" />
<rect x="88.45" y="466.08" width="8.4" height="26.82" fill="#24397a" />
<rect x="102.65" y="460.31" width="8.4" height="32.59" fill="#9f1329" />
<rect x="125.95" y="477.62" width="8.4" height="15.28" fill="#24397a" />
<rect x="140.15" y="460.77" width="8.4" height="32.13" fill="#9f1329" />
<line x1="55.15" y1="478.77" x2="55.15" y2="485.23" stroke="#111" stroke-width="1" />
<line x1="52.45" y1="478.77" x2="57.85" y2="478.77" stroke="#111" stroke-width="1" />
<line x1="52.45" y1="485.23" x2="57.85" y2="485.23" stroke="#111" stroke-width="1" />
<line x1="69.35" y1="474.62" x2="69.35" y2="489.62" stroke="#111" stroke-width="1" />
<line x1="66.65" y1="474.62" x2="72.05" y2="474.62" stroke="#111" stroke-width="1" />
<line x1="66.65" y1="489.62" x2="72.05" y2="489.62" stroke="#111" stroke-width="1" />
<line x1="92.65" y1="461.92" x2="92.65" y2="469.54" stroke="#111" stroke-width="1" />
<line x1="89.95" y1="461.92" x2="95.35" y2="461.92" stroke="#111" stroke-width="1" />
<line x1="89.95" y1="469.54" x2="95.35" y2="469.54" stroke="#111" stroke-width="1" />
<line x1="106.85" y1="444.62" x2="106.85" y2="475.77" stroke="#111" stroke-width="1" />
<line x1="104.15" y1="444.62" x2="109.55" y2="444.62" stroke="#111" stroke-width="1" />
<line x1="104.15" y1="475.77" x2="109.55" y2="475.77" stroke="#111" stroke-width="1" />
<line x1="130.15" y1="470.46" x2="130.15" y2="483.85" stroke="#111" stroke-width="1" />
<line x1="127.45" y1="470.46" x2="132.85" y2="470.46" stroke="#111" stroke-width="1" />
<line x1="127.45" y1="483.85" x2="132.85" y2="483.85" stroke="#111" stroke-width="1" />
<line x1="144.35" y1="450.38" x2="144.35" y2="471.15" stroke="#111" stroke-width="1" />
<line x1="141.65" y1="450.38" x2="147.05" y2="450.38" stroke="#111" stroke-width="1" />
<line x1="141.65" y1="471.15" x2="147.05" y2="471.15" stroke="#111" stroke-width="1" />
<line x1="42.5" y1="476.46" x2="154.4" y2="476.46" stroke="#111" stroke-width="0.8" stroke-dasharray="1.3 1.1"/>
<circle cx="55" cy="474.62" r="1.2" fill="#fff" fill-opacity="0.7" stroke="#3a3a3a" stroke-width="0.55"/>
<circle cx="55" cy="477.39" r="1.2" fill="#fff" fill-opacity="0.7" stroke="#3a3a3a" stroke-width="0.55"/>
<circle cx="53.38" cy="480.39" r="1.2" fill="#fff" fill-opacity="0.7" stroke="#3a3a3a" stroke-width="0.55"/>
<circle cx="56.62" cy="481.54" r="1.2" fill="#fff" fill-opacity="0.7" stroke="#3a3a3a" stroke-width="0.55"/>
<circle cx="54.77" cy="483.39" r="1.2" fill="#fff" fill-opacity="0.18" stroke="#aab3d0" stroke-opacity="0.75" stroke-width="0.5"/>
<circle cx="66.08" cy="474.62" r="1.25" fill="#0c0c0c"/>
<circle cx="73" cy="474.62" r="1.25" fill="#0c0c0c"/>
<circle cx="69.54" cy="487.31" r="1.2" fill="#2a0509" fill-opacity="0.85"/>
<circle cx="71.15" cy="489.62" r="1.2" fill="#2a0509" fill-opacity="0.85"/>
<circle cx="68.15" cy="490.77" r="1.2" fill="#2a0509" fill-opacity="0.85"/>
<circle cx="93.08" cy="458.46" r="1.2" fill="#fff" fill-opacity="0.7" stroke="#3a3a3a" stroke-width="0.55"/>
<circle cx="91.23" cy="461.92" r="1.2" fill="#fff" fill-opacity="0.7" stroke="#3a3a3a" stroke-width="0.55"/>
<circle cx="94.92" cy="462.62" r="1.2" fill="#fff" fill-opacity="0.7" stroke="#3a3a3a" stroke-width="0.55"/>
<circle cx="92.62" cy="465.39" r="1.2" fill="#fff" fill-opacity="0.7" stroke="#3a3a3a" stroke-width="0.55"/>
<circle cx="94.46" cy="467.69" r="1.2" fill="#fff" fill-opacity="0.18" stroke="#aab3d0" stroke-opacity="0.75" stroke-width="0.5"/>
<circle cx="107.39" cy="439.54" r="1.25" fill="#0c0c0c"/>
<circle cx="107.39" cy="451.54" r="1.25" fill="#0c0c0c"/>
<circle cx="107.39" cy="457.31" r="1.25" fill="#0c0c0c"/>
<circle cx="107.39" cy="464.46" r="1.2" fill="#2a0509" fill-opacity="0.85"/>
<circle cx="107.39" cy="471.15" r="1.2" fill="#2a0509" fill-opacity="0.85"/>
<circle cx="107.39" cy="475.77" r="1.2" fill="#2a0509" fill-opacity="0.85"/>
<circle cx="126.54" cy="470.46" r="1.2" fill="#fff" fill-opacity="0.7" stroke="#3a3a3a" stroke-width="0.55"/>
<circle cx="130.46" cy="471.85" r="1.2" fill="#fff" fill-opacity="0.7" stroke="#3a3a3a" stroke-width="0.55"/>
<circle cx="133.46" cy="476.92" r="1.2" fill="#fff" fill-opacity="0.7" stroke="#3a3a3a" stroke-width="0.55"/>
<circle cx="127.69" cy="476" r="1.2" fill="#fff" fill-opacity="0.7" stroke="#3a3a3a" stroke-width="0.55"/>
<circle cx="130.46" cy="479.23" r="1.2" fill="#fff" fill-opacity="0.18" stroke="#aab3d0" stroke-opacity="0.75" stroke-width="0.5"/>
<circle cx="145" cy="449.23" r="1.25" fill="#0c0c0c"/>
<circle cx="145" cy="459.62" r="1.25" fill="#0c0c0c"/>
<circle cx="145" cy="465.39" r="1.2" fill="#2a0509" fill-opacity="0.85"/>
<circle cx="145" cy="470" r="1.2" fill="#2a0509" fill-opacity="0.85"/>
<circle cx="145" cy="455" r="1.25" fill="#0c0c0c"/>
<line x1="45.9" y1="422.7" x2="45.9" y2="493.45" stroke="#111" stroke-width="1.15" />
<line x1="45.35" y1="492.9" x2="153.9" y2="492.9" stroke="#111" stroke-width="1.15" />
<line x1="62.25" y1="492.9" x2="62.25" y2="495.8" stroke="#111" stroke-width="0.8" />
<line x1="99.75" y1="492.9" x2="99.75" y2="495.8" stroke="#111" stroke-width="0.8" />
<line x1="137.25" y1="492.9" x2="137.25" y2="495.8" stroke="#111" stroke-width="0.8" />
<line x1="42.3" y1="426.15" x2="45.9" y2="426.15" stroke="#111" stroke-width="0.9" />
<text transform="translate(40.1 428.65)" font-size="7" text-anchor="end" fill="#222" stroke="#222" stroke-width="0.1">4</text>
<line x1="42.3" y1="443" x2="45.9" y2="443" stroke="#111" stroke-width="0.9" />
<text transform="translate(40.1 445.5)" font-size="7" text-anchor="end" fill="#222" stroke="#222" stroke-width="0.1">3</text>
<line x1="42.3" y1="459.62" x2="45.9" y2="459.62" stroke="#111" stroke-width="0.9" />
<text transform="translate(40.1 462.12)" font-size="7" text-anchor="end" fill="#222" stroke="#222" stroke-width="0.1">2</text>
<line x1="42.3" y1="476.46" x2="45.9" y2="476.46" stroke="#111" stroke-width="0.9" />
<text transform="translate(40.1 478.96)" font-size="7" text-anchor="end" fill="#222" stroke="#222" stroke-width="0.1">1</text>
<line x1="42.3" y1="492.9" x2="45.9" y2="492.9" stroke="#111" stroke-width="0.9" />
<text transform="translate(40.1 495.4)" font-size="7" text-anchor="end" fill="#222" stroke="#222" stroke-width="0.1">0</text>
<text transform="translate(18.9 458) rotate(-90) scale(0.83 1)" font-size="8.8" text-anchor="middle" fill="#222" stroke="#222" stroke-width="0.16"><tspan font-style="italic">Hamp/Rpl19</tspan> mRNA</text>
<text transform="translate(28.9 457.7) rotate(-90) scale(0.88 1)" font-size="8.8" text-anchor="middle" fill="#222" stroke="#222" stroke-width="0.16">(fold induction)</text>
<text transform="translate(62.9 505.2)" font-size="6.6" text-anchor="middle" fill="#222" stroke="#222" stroke-width="0.12">IDD</text>
<text transform="translate(99.3 505.2)" font-size="6.6" text-anchor="middle" fill="#222" stroke="#222" stroke-width="0.12">IDD<tspan font-family="DejaVu Sans, sans-serif" font-size="6.6" dx="0.3" dy="-0.1">→</tspan><tspan dx="0.3" dy="0.1">SD</tspan></text>
<text transform="translate(139.9 505.2)" font-size="6.6" text-anchor="middle" fill="#222" letter-spacing="0.28" stroke="#222" stroke-width="0.12">IDD + holo-Tf</text>
<text transform="translate(107.39 434.38)" font-size="7" text-anchor="middle" fill="#444">b</text>
<text transform="translate(93.08 455.15)" font-size="7" text-anchor="middle" fill="#444">a</text>
<text transform="translate(145 442)" font-size="7" text-anchor="middle" fill="#444">b</text>
<line x1="123.08" y1="432.38" x2="151.92" y2="432.38" stroke="#2a2a2a" stroke-width="1.05" />
<text transform="translate(136.92 429.98) scale(0.92 1)" font-size="7.4" text-anchor="middle" fill="#222" stroke="#222" stroke-width="0.08">P &lt; .01</text>
</g>
<g id="chart-J">
<text transform="translate(180.4 416.1) scale(0.93 1)" font-size="12.8" text-anchor="start" fill="#000" font-weight="bold" stroke="#000" stroke-width="0.25">J</text>
<rect x="232.15" y="479.23" width="8.4" height="13.67" fill="#24397a" />
<rect x="246.35" y="480.39" width="8.4" height="12.51" fill="#9f1329" />
<rect x="269.65" y="481.08" width="8.4" height="11.82" fill="#24397a" />
<rect x="283.85" y="482" width="8.4" height="10.9" fill="#9f1329" />
<rect x="307.15" y="451.08" width="8.4" height="41.82" fill="#24397a" />
<rect x="321.35" y="455.69" width="8.4" height="37.21" fill="#9f1329" />
<line x1="236.35" y1="466.08" x2="236.35" y2="491.92" stroke="#111" stroke-width="1" />
<line x1="233.65" y1="466.08" x2="239.05" y2="466.08" stroke="#111" stroke-width="1" />
<line x1="233.65" y1="491.92" x2="239.05" y2="491.92" stroke="#111" stroke-width="1" />
<line x1="250.55" y1="472.31" x2="250.55" y2="488.46" stroke="#111" stroke-width="1" />
<line x1="247.85" y1="472.31" x2="253.25" y2="472.31" stroke="#111" stroke-width="1" />
<line x1="247.85" y1="488.46" x2="253.25" y2="488.46" stroke="#111" stroke-width="1" />
<line x1="273.85" y1="478.08" x2="273.85" y2="483.85" stroke="#111" stroke-width="1" />
<line x1="271.15" y1="478.08" x2="276.55" y2="478.08" stroke="#111" stroke-width="1" />
<line x1="271.15" y1="483.85" x2="276.55" y2="483.85" stroke="#111" stroke-width="1" />
<line x1="288.05" y1="475.77" x2="288.05" y2="488.46" stroke="#111" stroke-width="1" />
<line x1="285.35" y1="475.77" x2="290.75" y2="475.77" stroke="#111" stroke-width="1" />
<line x1="285.35" y1="488.46" x2="290.75" y2="488.46" stroke="#111" stroke-width="1" />
<line x1="311.35" y1="443.46" x2="311.35" y2="458.46" stroke="#111" stroke-width="1" />
<line x1="308.65" y1="443.46" x2="314.05" y2="443.46" stroke="#111" stroke-width="1" />
<line x1="308.65" y1="458.46" x2="314.05" y2="458.46" stroke="#111" stroke-width="1" />
<line x1="325.55" y1="448.08" x2="325.55" y2="463.08" stroke="#111" stroke-width="1" />
<line x1="322.85" y1="448.08" x2="328.25" y2="448.08" stroke="#111" stroke-width="1" />
<line x1="322.85" y1="463.08" x2="328.25" y2="463.08" stroke="#111" stroke-width="1" />
<line x1="223.7" y1="480.39" x2="335.6" y2="480.39" stroke="#111" stroke-width="0.8" stroke-dasharray="1.3 1.1"/>
<circle cx="236.15" cy="456.15" r="1.2" fill="#fff" fill-opacity="0.7" stroke="#3a3a3a" stroke-width="0.55"/>
<circle cx="233.85" cy="474.62" r="1.2" fill="#fff" fill-opacity="0.7" stroke="#3a3a3a" stroke-width="0.55"/>
<circle cx="239.62" cy="474.62" r="1.2" fill="#fff" fill-opacity="0.7" stroke="#3a3a3a" stroke-width="0.55"/>
<circle cx="236.15" cy="478.08" r="1.2" fill="#fff" fill-opacity="0.7" stroke="#3a3a3a" stroke-width="0.55"/>
<circle cx="234.77" cy="482" r="1.2" fill="#fff" fill-opacity="0.18" stroke="#aab3d0" stroke-opacity="0.75" stroke-width="0.5"/>
<circle cx="237.54" cy="483.85" r="1.2" fill="#fff" fill-opacity="0.18" stroke="#aab3d0" stroke-opacity="0.75" stroke-width="0.5"/>
<circle cx="250" cy="468.85" r="1.25" fill="#0c0c0c"/>
<circle cx="253" cy="476.92" r="1.25" fill="#0c0c0c"/>
<circle cx="247.69" cy="481.54" r="1.2" fill="#2a0509" fill-opacity="0.85"/>
<circle cx="251.15" cy="483.85" r="1.2" fill="#2a0509" fill-opacity="0.85"/>
<circle cx="250" cy="487.54" r="1.2" fill="#2a0509" fill-opacity="0.85"/>
<circle cx="273.54" cy="475.08" r="1.2" fill="#fff" fill-opacity="0.7" stroke="#3a3a3a" stroke-width="0.55"/>
<circle cx="270.77" cy="479.23" r="1.2" fill="#fff" fill-opacity="0.7" stroke="#3a3a3a" stroke-width="0.55"/>
<circle cx="276.54" cy="479.23" r="1.2" fill="#fff" fill-opacity="0.7" stroke="#3a3a3a" stroke-width="0.55"/>
<circle cx="273.54" cy="481.54" r="1.2" fill="#fff" fill-opacity="0.7" stroke="#3a3a3a" stroke-width="0.55"/>
<circle cx="272.15" cy="483.85" r="1.2" fill="#fff" fill-opacity="0.18" stroke="#aab3d0" stroke-opacity="0.75" stroke-width="0.5"/>
<circle cx="285.77" cy="476.92" r="1.25" fill="#0c0c0c"/>
<circle cx="290.39" cy="476.92" r="1.25" fill="#0c0c0c"/>
<circle cx="288.08" cy="479.23" r="1.25" fill="#0c0c0c"/>
<circle cx="286.92" cy="487.54" r="1.2" fill="#2a0509" fill-opacity="0.85"/>
<circle cx="289.23" cy="484.31" r="1.2" fill="#2a0509" fill-opacity="0.85"/>
<circle cx="311.62" cy="438.85" r="1.2" fill="#fff" fill-opacity="0.7" stroke="#3a3a3a" stroke-width="0.55"/>
<circle cx="308.85" cy="449.23" r="1.2" fill="#fff" fill-opacity="0.7" stroke="#3a3a3a" stroke-width="0.55"/>
<circle cx="314.62" cy="449.23" r="1.2" fill="#fff" fill-opacity="0.7" stroke="#3a3a3a" stroke-width="0.55"/>
<circle cx="311.62" cy="451.54" r="1.2" fill="#fff" fill-opacity="0.7" stroke="#3a3a3a" stroke-width="0.55"/>
<circle cx="310" cy="454.31" r="1.2" fill="#fff" fill-opacity="0.18" stroke="#aab3d0" stroke-opacity="0.75" stroke-width="0.5"/>
<circle cx="313.23" cy="455.69" r="1.2" fill="#fff" fill-opacity="0.18" stroke="#aab3d0" stroke-opacity="0.75" stroke-width="0.5"/>
<circle cx="321.54" cy="448.08" r="1.25" fill="#0c0c0c"/>
<circle cx="328" cy="448.08" r="1.25" fill="#0c0c0c"/>
<circle cx="328" cy="452.92" r="1.25" fill="#0c0c0c"/>
<circle cx="321.54" cy="453.85" r="1.25" fill="#0c0c0c"/>
<circle cx="325" cy="458.46" r="1.2" fill="#2a0509" fill-opacity="0.85"/>
<circle cx="322.69" cy="459.85" r="1.2" fill="#2a0509" fill-opacity="0.85"/>
<line x1="227.1" y1="422.7" x2="227.1" y2="493.45" stroke="#111" stroke-width="1.15" />
<line x1="226.55" y1="492.9" x2="335.1" y2="492.9" stroke="#111" stroke-width="1.15" />
<line x1="243.45" y1="492.9" x2="243.45" y2="495.8" stroke="#111" stroke-width="0.8" />
<line x1="280.95" y1="492.9" x2="280.95" y2="495.8" stroke="#111" stroke-width="0.8" />
<line x1="318.45" y1="492.9" x2="318.45" y2="495.8" stroke="#111" stroke-width="0.8" />
<line x1="223.5" y1="426.15" x2="227.1" y2="426.15" stroke="#111" stroke-width="0.9" />
<text transform="translate(221.3 428.65)" font-size="7" text-anchor="end" fill="#222" stroke="#222" stroke-width="0.1">6</text>
<line x1="223.5" y1="448.77" x2="227.1" y2="448.77" stroke="#111" stroke-width="0.9" />
<text transform="translate(221.3 451.27)" font-size="7" text-anchor="end" fill="#222" stroke="#222" stroke-width="0.1">4</text>
<line x1="223.5" y1="471.15" x2="227.1" y2="471.15" stroke="#111" stroke-width="0.9" />
<text transform="translate(221.3 473.65)" font-size="7" text-anchor="end" fill="#222" stroke="#222" stroke-width="0.1">2</text>
<line x1="223.5" y1="492.9" x2="227.1" y2="492.9" stroke="#111" stroke-width="0.9" />
<text transform="translate(221.3 495.4)" font-size="7" text-anchor="end" fill="#222" stroke="#222" stroke-width="0.1">0</text>
<text transform="translate(200.1 457.4) rotate(-90) scale(0.86 1)" font-size="8.8" text-anchor="middle" fill="#222" stroke="#222" stroke-width="0.16"><tspan font-style="italic">Id1/Rpl19</tspan> mRNA</text>
<text transform="translate(210.1 457.7) rotate(-90) scale(0.88 1)" font-size="8.8" text-anchor="middle" fill="#222" stroke="#222" stroke-width="0.16">(fold induction)</text>
<text transform="translate(244.1 505.2)" font-size="6.6" text-anchor="middle" fill="#222" stroke="#222" stroke-width="0.12">IDD</text>
<text transform="translate(280.5 505.2)" font-size="6.6" text-anchor="middle" fill="#222" stroke="#222" stroke-width="0.12">IDD<tspan font-family="DejaVu Sans, sans-serif" font-size="6.6" dx="0.3" dy="-0.1">→</tspan><tspan dx="0.3" dy="0.1">SD</tspan></text>
<text transform="translate(321.1 505.2)" font-size="6.6" text-anchor="middle" fill="#222" letter-spacing="0.28" stroke="#222" stroke-width="0.12">IDD + holo-Tf</text>
<text transform="translate(311.62 435.08)" font-size="7" text-anchor="middle" fill="#444">a</text>
<text transform="translate(325.69 441.54)" font-size="7" text-anchor="middle" fill="#444">b</text>
</g>
<g id="chart-K">
<text transform="translate(358.5 416.1) scale(0.93 1)" font-size="12.8" text-anchor="start" fill="#000" font-weight="bold" stroke="#000" stroke-width="0.25">K</text>
<rect x="409.35" y="481.08" width="8.4" height="11.82" fill="#24397a" />
<rect x="423.55" y="487.31" width="8.4" height="5.59" fill="#9f1329" />
<rect x="446.85" y="486.15" width="8.4" height="6.75" fill="#24397a" />
<rect x="461.05" y="485.69" width="8.4" height="7.21" fill="#9f1329" />
<rect x="484.35" y="473" width="8.4" height="19.9" fill="#24397a" />
<rect x="498.55" y="475.31" width="8.4" height="17.59" fill="#9f1329" />
<line x1="413.55" y1="476.46" x2="413.55" y2="485.69" stroke="#111" stroke-width="1" />
<line x1="410.85" y1="476.46" x2="416.25" y2="476.46" stroke="#111" stroke-width="1" />
<line x1="410.85" y1="485.69" x2="416.25" y2="485.69" stroke="#111" stroke-width="1" />
<line x1="427.75" y1="485.69" x2="427.75" y2="488.92" stroke="#111" stroke-width="1" />
<line x1="425.05" y1="485.69" x2="430.45" y2="485.69" stroke="#111" stroke-width="1" />
<line x1="425.05" y1="488.92" x2="430.45" y2="488.92" stroke="#111" stroke-width="1" />
<line x1="451.05" y1="482.69" x2="451.05" y2="489.62" stroke="#111" stroke-width="1" />
<line x1="448.35" y1="482.69" x2="453.75" y2="482.69" stroke="#111" stroke-width="1" />
<line x1="448.35" y1="489.62" x2="453.75" y2="489.62" stroke="#111" stroke-width="1" />
<line x1="465.25" y1="474.62" x2="465.25" y2="492.62" stroke="#111" stroke-width="1" />
<line x1="462.55" y1="474.62" x2="467.95" y2="474.62" stroke="#111" stroke-width="1" />
<line x1="488.55" y1="466.08" x2="488.55" y2="479.23" stroke="#111" stroke-width="1" />
<line x1="485.85" y1="466.08" x2="491.25" y2="466.08" stroke="#111" stroke-width="1" />
<line x1="485.85" y1="479.23" x2="491.25" y2="479.23" stroke="#111" stroke-width="1" />
<line x1="502.75" y1="469.54" x2="502.75" y2="481.08" stroke="#111" stroke-width="1" />
<line x1="500.05" y1="469.54" x2="505.45" y2="469.54" stroke="#111" stroke-width="1" />
<line x1="500.05" y1="481.08" x2="505.45" y2="481.08" stroke="#111" stroke-width="1" />
<line x1="400.9" y1="483.39" x2="512.8" y2="483.39" stroke="#111" stroke-width="0.8" stroke-dasharray="1.3 1.1"/>
<circle cx="413.69" cy="471.15" r="1.2" fill="#fff" fill-opacity="0.7" stroke="#3a3a3a" stroke-width="0.55"/>
<circle cx="417.62" cy="480.39" r="1.2" fill="#fff" fill-opacity="0.7" stroke="#3a3a3a" stroke-width="0.55"/>
<circle cx="410.69" cy="480.39" r="1.2" fill="#fff" fill-opacity="0.7" stroke="#3a3a3a" stroke-width="0.55"/>
<circle cx="413.23" cy="483.39" r="1.2" fill="#fff" fill-opacity="0.18" stroke="#aab3d0" stroke-opacity="0.75" stroke-width="0.5"/>
<circle cx="415.54" cy="485.23" r="1.2" fill="#fff" fill-opacity="0.18" stroke="#aab3d0" stroke-opacity="0.75" stroke-width="0.5"/>
<circle cx="425.69" cy="485" r="1.25" fill="#0c0c0c"/>
<circle cx="429.15" cy="485.69" r="1.25" fill="#0c0c0c"/>
<circle cx="427.54" cy="487.31" r="1.25" fill="#0c0c0c"/>
<circle cx="426.62" cy="488.92" r="1.2" fill="#2a0509" fill-opacity="0.85"/>
<circle cx="428.92" cy="488.46" r="1.2" fill="#2a0509" fill-opacity="0.85"/>
<circle cx="451.08" cy="480.39" r="1.2" fill="#fff" fill-opacity="0.7" stroke="#3a3a3a" stroke-width="0.55"/>
<circle cx="449.23" cy="485" r="1.2" fill="#fff" fill-opacity="0.7" stroke="#3a3a3a" stroke-width="0.55"/>
<circle cx="452.92" cy="486.15" r="1.2" fill="#fff" fill-opacity="0.7" stroke="#3a3a3a" stroke-width="0.55"/>
<circle cx="450.62" cy="488" r="1.2" fill="#fff" fill-opacity="0.18" stroke="#aab3d0" stroke-opacity="0.75" stroke-width="0.5"/>
<circle cx="465.39" cy="453.85" r="1.25" fill="#0c0c0c"/>
<circle cx="465.39" cy="485" r="1.25" fill="#0c0c0c"/>
<circle cx="467.23" cy="486.15" r="1.25" fill="#0c0c0c"/>
<circle cx="464" cy="488" r="1.2" fill="#2a0509" fill-opacity="0.85"/>
<circle cx="466.31" cy="489.39" r="1.2" fill="#2a0509" fill-opacity="0.85"/>
<circle cx="488.69" cy="458" r="1.2" fill="#fff" fill-opacity="0.7" stroke="#3a3a3a" stroke-width="0.55"/>
<circle cx="485.69" cy="472.31" r="1.2" fill="#fff" fill-opacity="0.7" stroke="#3a3a3a" stroke-width="0.55"/>
<circle cx="491.46" cy="472.31" r="1.2" fill="#fff" fill-opacity="0.7" stroke="#3a3a3a" stroke-width="0.55"/>
<circle cx="487.54" cy="475.77" r="1.2" fill="#fff" fill-opacity="0.18" stroke="#aab3d0" stroke-opacity="0.75" stroke-width="0.5"/>
<circle cx="490.31" cy="477.39" r="1.2" fill="#fff" fill-opacity="0.18" stroke="#aab3d0" stroke-opacity="0.75" stroke-width="0.5"/>
<circle cx="488.69" cy="468.15" r="1.2" fill="#fff" fill-opacity="0.7" stroke="#3a3a3a" stroke-width="0.55"/>
<circle cx="503" cy="464.23" r="1.25" fill="#0c0c0c"/>
<circle cx="500.69" cy="475.77" r="1.25" fill="#0c0c0c"/>
<circle cx="506" cy="475.77" r="1.25" fill="#0c0c0c"/>
<circle cx="503" cy="478.08" r="1.2" fill="#2a0509" fill-opacity="0.85"/>
<circle cx="501.39" cy="480.39" r="1.2" fill="#2a0509" fill-opacity="0.85"/>
<circle cx="504.62" cy="479.23" r="1.2" fill="#2a0509" fill-opacity="0.85"/>
<line x1="404.3" y1="422.7" x2="404.3" y2="493.45" stroke="#111" stroke-width="1.15" />
<line x1="403.75" y1="492.9" x2="512.3" y2="492.9" stroke="#111" stroke-width="1.15" />
<line x1="420.65" y1="492.9" x2="420.65" y2="495.8" stroke="#111" stroke-width="0.8" />
<line x1="458.15" y1="492.9" x2="458.15" y2="495.8" stroke="#111" stroke-width="0.8" />
<line x1="495.65" y1="492.9" x2="495.65" y2="495.8" stroke="#111" stroke-width="0.8" />
<line x1="400.7" y1="426.15" x2="404.3" y2="426.15" stroke="#111" stroke-width="0.9" />
<text transform="translate(398.5 428.65)" font-size="7" text-anchor="end" fill="#222" stroke="#222" stroke-width="0.1">0.03</text>
<line x1="400.7" y1="448.77" x2="404.3" y2="448.77" stroke="#111" stroke-width="0.9" />
<text transform="translate(398.5 451.27)" font-size="7" text-anchor="end" fill="#222" stroke="#222" stroke-width="0.1">0.02</text>
<line x1="400.7" y1="471.15" x2="404.3" y2="471.15" stroke="#111" stroke-width="0.9" />
<text transform="translate(398.5 473.65)" font-size="7" text-anchor="end" fill="#222" stroke="#222" stroke-width="0.1">0.01</text>
<line x1="400.7" y1="492.9" x2="404.3" y2="492.9" stroke="#111" stroke-width="0.9" />
<text transform="translate(398.5 495.4)" font-size="7" text-anchor="end" fill="#222" stroke="#222" stroke-width="0.1">0</text>
<text transform="translate(378.5 457.7) rotate(-90) scale(0.79 1)" font-size="8.8" text-anchor="middle" fill="#222" stroke="#222" stroke-width="0.16"><tspan font-style="italic">Bmp6</tspan> mRNA/LIC</text>
<text transform="translate(421.3 505.2)" font-size="6.6" text-anchor="middle" fill="#222" stroke="#222" stroke-width="0.12">IDD</text>
<text transform="translate(457.7 505.2)" font-size="6.6" text-anchor="middle" fill="#222" stroke="#222" stroke-width="0.12">IDD<tspan font-family="DejaVu Sans, sans-serif" font-size="6.6" dx="0.3" dy="-0.1">→</tspan><tspan dx="0.3" dy="0.1">SD</tspan></text>
<text transform="translate(498.3 505.2)" font-size="6.6" text-anchor="middle" fill="#222" letter-spacing="0.28" stroke="#222" stroke-width="0.12">IDD + holo-Tf</text>
<text transform="translate(451.08 477.31)" font-size="7" text-anchor="middle" fill="#444">a</text>
<text transform="translate(488.69 454.69)" font-size="7" text-anchor="middle" fill="#444">a</text>
<text transform="translate(503 460.46)" font-size="7" text-anchor="middle" fill="#444">b</text>
<line x1="413.69" y1="432.38" x2="441.85" y2="432.38" stroke="#2a2a2a" stroke-width="1.05" />
<text transform="translate(427.54 429.98) scale(0.92 1)" font-size="7.4" text-anchor="middle" fill="#222" stroke="#222" stroke-width="0.08"><tspan font-style="italic">P</tspan> &lt; .01</text>
</g>
<g id="chart-L">
<text transform="translate(1 534.8) scale(0.93 1)" font-size="12.8" text-anchor="start" fill="#000" font-weight="bold" stroke="#000" stroke-width="0.25">L</text>
<rect x="50.95" y="602.23" width="8.4" height="11.47" fill="#24397a" />
<rect x="65.15" y="605" width="8.4" height="8.7" fill="#9f1329" />
<rect x="88.45" y="603.85" width="8.4" height="9.85" fill="#24397a" />
<rect x="102.65" y="609.15" width="8.4" height="4.55" fill="#9f1329" />
<rect x="125.95" y="564.62" width="8.4" height="49.08" fill="#24397a" />
<rect x="140.15" y="579.62" width="8.4" height="34.08" fill="#9f1329" />
<line x1="55.15" y1="592.31" x2="55.15" y2="611.23" stroke="#111" stroke-width="1" />
<line x1="52.45" y1="592.31" x2="57.85" y2="592.31" stroke="#111" stroke-width="1" />
<line x1="52.45" y1="611.23" x2="57.85" y2="611.23" stroke="#111" stroke-width="1" />
<line x1="69.35" y1="599.92" x2="69.35" y2="609.85" stroke="#111" stroke-width="1" />
<line x1="66.65" y1="599.92" x2="72.05" y2="599.92" stroke="#111" stroke-width="1" />
<line x1="66.65" y1="609.85" x2="72.05" y2="609.85" stroke="#111" stroke-width="1" />
<line x1="92.65" y1="598.77" x2="92.65" y2="608.46" stroke="#111" stroke-width="1" />
<line x1="89.95" y1="598.77" x2="95.35" y2="598.77" stroke="#111" stroke-width="1" />
<line x1="89.95" y1="608.46" x2="95.35" y2="608.46" stroke="#111" stroke-width="1" />
<line x1="106.85" y1="605" x2="106.85" y2="612.62" stroke="#111" stroke-width="1" />
<line x1="104.15" y1="605" x2="109.55" y2="605" stroke="#111" stroke-width="1" />
<line x1="104.15" y1="612.62" x2="109.55" y2="612.62" stroke="#111" stroke-width="1" />
<line x1="130.15" y1="552.38" x2="130.15" y2="575" stroke="#111" stroke-width="1" />
<line x1="127.45" y1="552.38" x2="132.85" y2="552.38" stroke="#111" stroke-width="1" />
<line x1="127.45" y1="575" x2="132.85" y2="575" stroke="#111" stroke-width="1" />
<line x1="144.35" y1="572.23" x2="144.35" y2="586.54" stroke="#111" stroke-width="1" />
<line x1="141.65" y1="572.23" x2="147.05" y2="572.23" stroke="#111" stroke-width="1" />
<line x1="141.65" y1="586.54" x2="147.05" y2="586.54" stroke="#111" stroke-width="1" />
<line x1="42.5" y1="603.85" x2="154.4" y2="603.85" stroke="#111" stroke-width="0.8" stroke-dasharray="1.3 1.1"/>
<circle cx="51.54" cy="592.31" r="1.2" fill="#fff" fill-opacity="0.7" stroke="#3a3a3a" stroke-width="0.55"/>
<circle cx="58.92" cy="590.46" r="1.2" fill="#fff" fill-opacity="0.7" stroke="#3a3a3a" stroke-width="0.55"/>
<circle cx="55.69" cy="594.62" r="1.2" fill="#fff" fill-opacity="0.7" stroke="#3a3a3a" stroke-width="0.55"/>
<circle cx="53.85" cy="599.23" r="1.2" fill="#fff" fill-opacity="0.7" stroke="#3a3a3a" stroke-width="0.55"/>
<circle cx="56.62" cy="603.85" r="1.2" fill="#fff" fill-opacity="0.18" stroke="#aab3d0" stroke-opacity="0.75" stroke-width="0.5"/>
<circle cx="54.77" cy="607.31" r="1.2" fill="#fff" fill-opacity="0.18" stroke="#aab3d0" stroke-opacity="0.75" stroke-width="0.5"/>
<circle cx="69.31" cy="594.62" r="1.25" fill="#0c0c0c"/>
<circle cx="73" cy="603.85" r="1.25" fill="#0c0c0c"/>
<circle cx="67.69" cy="605" r="1.25" fill="#0c0c0c"/>
<circle cx="71.15" cy="607.31" r="1.2" fill="#2a0509" fill-opacity="0.85"/>
<circle cx="69.31" cy="609.62" r="1.2" fill="#2a0509" fill-opacity="0.85"/>
<circle cx="93.54" cy="596.92" r="1.2" fill="#fff" fill-opacity="0.7" stroke="#3a3a3a" stroke-width="0.55"/>
<circle cx="90.31" cy="599.23" r="1.2" fill="#fff" fill-opacity="0.7" stroke="#3a3a3a" stroke-width="0.55"/>
<circle cx="96.54" cy="599.23" r="1.2" fill="#fff" fill-opacity="0.7" stroke="#3a3a3a" stroke-width="0.55"/>
<circle cx="93.54" cy="602.69" r="1.2" fill="#fff" fill-opacity="0.7" stroke="#3a3a3a" stroke-width="0.55"/>
<circle cx="92.15" cy="605.69" r="1.2" fill="#fff" fill-opacity="0.18" stroke="#aab3d0" stroke-opacity="0.75" stroke-width="0.5"/>
<circle cx="107.39" cy="603.85" r="1.25" fill="#0c0c0c"/>
<circle cx="110.39" cy="606.62" r="1.25" fill="#0c0c0c"/>
<circle cx="105.77" cy="609.62" r="1.25" fill="#0c0c0c"/>
<circle cx="108.08" cy="610.77" r="1.2" fill="#2a0509" fill-opacity="0.85"/>
<circle cx="126.54" cy="552.38" r="1.2" fill="#fff" fill-opacity="0.7" stroke="#3a3a3a" stroke-width="0.55"/>
<circle cx="133.46" cy="551.92" r="1.2" fill="#fff" fill-opacity="0.7" stroke="#3a3a3a" stroke-width="0.55"/>
<circle cx="130.46" cy="555.38" r="1.2" fill="#fff" fill-opacity="0.7" stroke="#3a3a3a" stroke-width="0.55"/>
<circle cx="130" cy="564.62" r="1.2" fill="#fff" fill-opacity="0.7" stroke="#3a3a3a" stroke-width="0.55"/>
<circle cx="128.85" cy="570.38" r="1.2" fill="#fff" fill-opacity="0.18" stroke="#aab3d0" stroke-opacity="0.75" stroke-width="0.5"/>
<circle cx="131.15" cy="572.92" r="1.2" fill="#fff" fill-opacity="0.18" stroke="#aab3d0" stroke-opacity="0.75" stroke-width="0.5"/>
<circle cx="144.31" cy="565.08" r="1.25" fill="#0c0c0c"/>
<circle cx="141.54" cy="579.62" r="1.25" fill="#0c0c0c"/>
<circle cx="148" cy="578.46" r="1.25" fill="#0c0c0c"/>
<circle cx="142.69" cy="584.23" r="1.2" fill="#2a0509" fill-opacity="0.85"/>
<circle cx="146.15" cy="583.08" r="1.2" fill="#2a0509" fill-opacity="0.85"/>
<circle cx="145" cy="587.69" r="1.2" fill="#2a0509" fill-opacity="0.85"/>
<line x1="45.9" y1="543.4" x2="45.9" y2="614.25" stroke="#111" stroke-width="1.15" />
<line x1="45.35" y1="613.7" x2="153.9" y2="613.7" stroke="#111" stroke-width="1.15" />
<line x1="62.25" y1="613.7" x2="62.25" y2="616.6" stroke="#111" stroke-width="0.8" />
<line x1="99.75" y1="613.7" x2="99.75" y2="616.6" stroke="#111" stroke-width="0.8" />
<line x1="137.25" y1="613.7" x2="137.25" y2="616.6" stroke="#111" stroke-width="0.8" />
<line x1="42.3" y1="546.85" x2="45.9" y2="546.85" stroke="#111" stroke-width="0.9" />
<text transform="translate(40.1 549.35)" font-size="7" text-anchor="end" fill="#222" stroke="#222" stroke-width="0.1">0.03</text>
<line x1="42.3" y1="569.23" x2="45.9" y2="569.23" stroke="#111" stroke-width="0.9" />
<text transform="translate(40.1 571.73)" font-size="7" text-anchor="end" fill="#222" stroke="#222" stroke-width="0.1">0.02</text>
<line x1="42.3" y1="591.85" x2="45.9" y2="591.85" stroke="#111" stroke-width="0.9" />
<text transform="translate(40.1 594.35)" font-size="7" text-anchor="end" fill="#222" stroke="#222" stroke-width="0.1">0.01</text>
<line x1="42.3" y1="613.7" x2="45.9" y2="613.7" stroke="#111" stroke-width="0.9" />
<text transform="translate(40.1 616.2)" font-size="7" text-anchor="end" fill="#222" stroke="#222" stroke-width="0.1">0</text>
<text transform="translate(20.2 578.3) rotate(-90) scale(0.79 1)" font-size="8.8" text-anchor="middle" fill="#222" stroke="#222" stroke-width="0.16"><tspan font-style="italic">Bmp2</tspan> mRNA/LIC</text>
<text transform="translate(62.9 626)" font-size="6.6" text-anchor="middle" fill="#222" stroke="#222" stroke-width="0.12">IDD</text>
<text transform="translate(99.3 626)" font-size="6.6" text-anchor="middle" fill="#222" stroke="#222" stroke-width="0.12">IDD<tspan font-family="DejaVu Sans, sans-serif" font-size="6.6" dx="0.3" dy="-0.1">→</tspan><tspan dx="0.3" dy="0.1">SD</tspan></text>
<text transform="translate(139.9 626)" font-size="6.6" text-anchor="middle" fill="#222" letter-spacing="0.28" stroke="#222" stroke-width="0.12">IDD + holo-Tf</text>
<text transform="translate(130.46 549.31)" font-size="7" text-anchor="middle" fill="#444">a</text>
<text transform="translate(144.31 561.31)" font-size="7" text-anchor="middle" fill="#444">b</text>
<line x1="84.54" y1="542" x2="115" y2="542" stroke="#2a2a2a" stroke-width="1.05" />
<text transform="translate(99.54 539.6) scale(0.92 1)" font-size="7.4" text-anchor="middle" fill="#222" stroke="#222" stroke-width="0.08"><tspan font-style="italic">P</tspan> = .061</text>
<line x1="122.62" y1="542" x2="153.08" y2="542" stroke="#2a2a2a" stroke-width="1.05" />
<text transform="translate(137.39 539.6) scale(0.92 1)" font-size="7.4" text-anchor="middle" fill="#222" stroke="#222" stroke-width="0.08">P &lt; .01</text>
</g>
<g id="chart-M">
<text transform="translate(179.3 534.8) scale(0.93 1)" font-size="12.8" text-anchor="start" fill="#000" font-weight="bold" stroke="#000" stroke-width="0.25">M</text>
<rect x="232.15" y="604.31" width="8.4" height="9.39" fill="#24397a" />
<rect x="246.35" y="610.08" width="8.4" height="3.62" fill="#9f1329" />
<rect x="269.65" y="595.31" width="8.4" height="18.39" fill="#24397a" />
<rect x="283.85" y="595.08" width="8.4" height="18.62" fill="#9f1329" />
<rect x="307.15" y="603.85" width="8.4" height="9.85" fill="#24397a" />
<rect x="321.35" y="605" width="8.4" height="8.7" fill="#9f1329" />
<line x1="236.35" y1="601.54" x2="236.35" y2="607.31" stroke="#111" stroke-width="1" />
<line x1="233.65" y1="601.54" x2="239.05" y2="601.54" stroke="#111" stroke-width="1" />
<line x1="233.65" y1="607.31" x2="239.05" y2="607.31" stroke="#111" stroke-width="1" />
<line x1="250.55" y1="608" x2="250.55" y2="612.15" stroke="#111" stroke-width="1" />
<line x1="247.85" y1="608" x2="253.25" y2="608" stroke="#111" stroke-width="1" />
<line x1="247.85" y1="612.15" x2="253.25" y2="612.15" stroke="#111" stroke-width="1" />
<line x1="273.85" y1="591.15" x2="273.85" y2="599.23" stroke="#111" stroke-width="1" />
<line x1="271.15" y1="591.15" x2="276.55" y2="591.15" stroke="#111" stroke-width="1" />
<line x1="271.15" y1="599.23" x2="276.55" y2="599.23" stroke="#111" stroke-width="1" />
<line x1="288.05" y1="576.85" x2="288.05" y2="613.54" stroke="#111" stroke-width="1" />
<line x1="285.35" y1="576.85" x2="290.75" y2="576.85" stroke="#111" stroke-width="1" />
<line x1="311.35" y1="599.92" x2="311.35" y2="608" stroke="#111" stroke-width="1" />
<line x1="308.65" y1="599.92" x2="314.05" y2="599.92" stroke="#111" stroke-width="1" />
<line x1="308.65" y1="608" x2="314.05" y2="608" stroke="#111" stroke-width="1" />
<line x1="325.55" y1="583.54" x2="325.55" y2="613.54" stroke="#111" stroke-width="1" />
<line x1="322.85" y1="583.54" x2="328.25" y2="583.54" stroke="#111" stroke-width="1" />
<line x1="223.7" y1="604.54" x2="335.6" y2="604.54" stroke="#111" stroke-width="0.8" stroke-dasharray="1.3 1.1"/>
<circle cx="236.15" cy="598.08" r="1.2" fill="#fff" fill-opacity="0.7" stroke="#3a3a3a" stroke-width="0.55"/>
<circle cx="234.31" cy="603.39" r="1.2" fill="#fff" fill-opacity="0.7" stroke="#3a3a3a" stroke-width="0.55"/>
<circle cx="237.54" cy="604.31" r="1.2" fill="#fff" fill-opacity="0.7" stroke="#3a3a3a" stroke-width="0.55"/>
<circle cx="235.23" cy="606.62" r="1.2" fill="#fff" fill-opacity="0.18" stroke="#aab3d0" stroke-opacity="0.75" stroke-width="0.5"/>
<circle cx="237.08" cy="608" r="1.2" fill="#fff" fill-opacity="0.18" stroke="#aab3d0" stroke-opacity="0.75" stroke-width="0.5"/>
<circle cx="250" cy="605" r="1.25" fill="#0c0c0c"/>
<circle cx="248.85" cy="609.62" r="1.25" fill="#0c0c0c"/>
<circle cx="252.31" cy="610.31" r="1.25" fill="#0c0c0c"/>
<circle cx="250.46" cy="611.23" r="1.2" fill="#2a0509" fill-opacity="0.85"/>
<circle cx="273.77" cy="589.54" r="1.2" fill="#fff" fill-opacity="0.7" stroke="#3a3a3a" stroke-width="0.55"/>
<circle cx="270.77" cy="592.77" r="1.2" fill="#fff" fill-opacity="0.7" stroke="#3a3a3a" stroke-width="0.55"/>
<circle cx="276.54" cy="593.46" r="1.2" fill="#fff" fill-opacity="0.7" stroke="#3a3a3a" stroke-width="0.55"/>
<circle cx="273.77" cy="595.77" r="1.2" fill="#fff" fill-opacity="0.7" stroke="#3a3a3a" stroke-width="0.55"/>
<circle cx="272.15" cy="598.31" r="1.2" fill="#fff" fill-opacity="0.18" stroke="#aab3d0" stroke-opacity="0.75" stroke-width="0.5"/>
<circle cx="287.62" cy="558.38" r="1.25" fill="#0c0c0c"/>
<circle cx="284.62" cy="588.85" r="1.25" fill="#0c0c0c"/>
<circle cx="291.08" cy="588.85" r="1.25" fill="#0c0c0c"/>
<circle cx="286.92" cy="596.92" r="1.2" fill="#2a0509" fill-opacity="0.85"/>
<circle cx="289.23" cy="603.85" r="1.2" fill="#2a0509" fill-opacity="0.85"/>
<circle cx="287.62" cy="610.77" r="1.2" fill="#2a0509" fill-opacity="0.85"/>
<circle cx="308.85" cy="599.23" r="1.2" fill="#fff" fill-opacity="0.7" stroke="#3a3a3a" stroke-width="0.55"/>
<circle cx="311.62" cy="598.77" r="1.2" fill="#fff" fill-opacity="0.7" stroke="#3a3a3a" stroke-width="0.55"/>
<circle cx="314.62" cy="598.54" r="1.2" fill="#fff" fill-opacity="0.7" stroke="#3a3a3a" stroke-width="0.55"/>
<circle cx="310" cy="602.92" r="1.2" fill="#fff" fill-opacity="0.7" stroke="#3a3a3a" stroke-width="0.55"/>
<circle cx="312.77" cy="604.31" r="1.2" fill="#fff" fill-opacity="0.7" stroke="#3a3a3a" stroke-width="0.55"/>
<circle cx="321.54" cy="595.77" r="1.25" fill="#0c0c0c"/>
<circle cx="328.46" cy="595.77" r="1.25" fill="#0c0c0c"/>
<circle cx="321.54" cy="601.54" r="1.25" fill="#0c0c0c"/>
<circle cx="328.46" cy="601.54" r="1.25" fill="#0c0c0c"/>
<circle cx="325" cy="609.62" r="1.2" fill="#2a0509" fill-opacity="0.85"/>
<line x1="227.1" y1="543.4" x2="227.1" y2="614.25" stroke="#111" stroke-width="1.15" />
<line x1="226.55" y1="613.7" x2="335.1" y2="613.7" stroke="#111" stroke-width="1.15" />
<line x1="243.45" y1="613.7" x2="243.45" y2="616.6" stroke="#111" stroke-width="0.8" />
<line x1="280.95" y1="613.7" x2="280.95" y2="616.6" stroke="#111" stroke-width="0.8" />
<line x1="318.45" y1="613.7" x2="318.45" y2="616.6" stroke="#111" stroke-width="0.8" />
<line x1="223.5" y1="546.85" x2="227.1" y2="546.85" stroke="#111" stroke-width="0.9" />
<text transform="translate(221.3 549.35)" font-size="7" text-anchor="end" fill="#222" stroke="#222" stroke-width="0.1">0.03</text>
<line x1="223.5" y1="569.23" x2="227.1" y2="569.23" stroke="#111" stroke-width="0.9" />
<text transform="translate(221.3 571.73)" font-size="7" text-anchor="end" fill="#222" stroke="#222" stroke-width="0.1">0.02</text>
<line x1="223.5" y1="591.85" x2="227.1" y2="591.85" stroke="#111" stroke-width="0.9" />
<text transform="translate(221.3 594.35)" font-size="7" text-anchor="end" fill="#222" stroke="#222" stroke-width="0.1">0.01</text>
<line x1="223.5" y1="613.7" x2="227.1" y2="613.7" stroke="#111" stroke-width="0.9" />
<text transform="translate(221.3 616.2)" font-size="7" text-anchor="end" fill="#222" stroke="#222" stroke-width="0.1">0</text>
<text transform="translate(201.1 578.7) rotate(-90) scale(0.79 1)" font-size="8.8" text-anchor="middle" fill="#222" stroke="#222" stroke-width="0.16"><tspan font-style="italic">Hamp</tspan> mRNA/LIC</text>
<text transform="translate(244.1 626)" font-size="6.6" text-anchor="middle" fill="#222" stroke="#222" stroke-width="0.12">IDD</text>
<text transform="translate(280.5 626)" font-size="6.6" text-anchor="middle" fill="#222" stroke="#222" stroke-width="0.12">IDD<tspan font-family="DejaVu Sans, sans-serif" font-size="6.6" dx="0.3" dy="-0.1">→</tspan><tspan dx="0.3" dy="0.1">SD</tspan></text>
<text transform="translate(321.1 626)" font-size="6.6" text-anchor="middle" fill="#222" letter-spacing="0.28" stroke="#222" stroke-width="0.12">IDD + holo-Tf</text>
<text transform="translate(287.62 555.08)" font-size="7" text-anchor="middle" fill="#444">b</text>
<text transform="translate(273.77 586.23)" font-size="7" text-anchor="middle" fill="#444">a</text>
<line x1="233.85" y1="550.31" x2="261.08" y2="550.31" stroke="#2a2a2a" stroke-width="1.05" />
<text transform="translate(247.23 547.91) scale(0.92 1)" font-size="7.4" text-anchor="middle" fill="#222" stroke="#222" stroke-width="0.08">P &lt; .05</text>
</g>
<g id="chart-N">
<text transform="translate(358.5 534.8) scale(0.93 1)" font-size="12.8" text-anchor="start" fill="#000" font-weight="bold" stroke="#000" stroke-width="0.25">N</text>
<rect x="409.35" y="600.39" width="8.4" height="13.31" fill="#24397a" />
<rect x="423.55" y="603.85" width="8.4" height="9.85" fill="#9f1329" />
<rect x="446.85" y="605" width="8.4" height="8.7" fill="#24397a" />
<rect x="461.05" y="608.92" width="8.4" height="4.78" fill="#9f1329" />
<rect x="484.35" y="578.92" width="8.4" height="34.78" fill="#24397a" />
<rect x="498.55" y="590" width="8.4" height="23.7" fill="#9f1329" />
<line x1="413.55" y1="591.85" x2="413.55" y2="608.46" stroke="#111" stroke-width="1" />
<line x1="410.85" y1="591.85" x2="416.25" y2="591.85" stroke="#111" stroke-width="1" />
<line x1="410.85" y1="608.46" x2="416.25" y2="608.46" stroke="#111" stroke-width="1" />
<line x1="427.75" y1="599.92" x2="427.75" y2="608.46" stroke="#111" stroke-width="1" />
<line x1="425.05" y1="599.92" x2="430.45" y2="599.92" stroke="#111" stroke-width="1" />
<line x1="425.05" y1="608.46" x2="430.45" y2="608.46" stroke="#111" stroke-width="1" />
<line x1="451.05" y1="601.08" x2="451.05" y2="608.46" stroke="#111" stroke-width="1" />
<line x1="448.35" y1="601.08" x2="453.75" y2="601.08" stroke="#111" stroke-width="1" />
<line x1="448.35" y1="608.46" x2="453.75" y2="608.46" stroke="#111" stroke-width="1" />
<line x1="465.25" y1="604.31" x2="465.25" y2="612.15" stroke="#111" stroke-width="1" />
<line x1="462.55" y1="604.31" x2="467.95" y2="604.31" stroke="#111" stroke-width="1" />
<line x1="462.55" y1="612.15" x2="467.95" y2="612.15" stroke="#111" stroke-width="1" />
<line x1="488.55" y1="565.08" x2="488.55" y2="592.31" stroke="#111" stroke-width="1" />
<line x1="485.85" y1="565.08" x2="491.25" y2="565.08" stroke="#111" stroke-width="1" />
<line x1="485.85" y1="592.31" x2="491.25" y2="592.31" stroke="#111" stroke-width="1" />
<line x1="502.75" y1="580.31" x2="502.75" y2="599.23" stroke="#111" stroke-width="1" />
<line x1="500.05" y1="580.31" x2="505.45" y2="580.31" stroke="#111" stroke-width="1" />
<line x1="500.05" y1="599.23" x2="505.45" y2="599.23" stroke="#111" stroke-width="1" />
<line x1="400.9" y1="605.69" x2="512.8" y2="605.69" stroke="#111" stroke-width="0.8" stroke-dasharray="1.3 1.1"/>
<circle cx="413.69" cy="586.54" r="1.2" fill="#fff" fill-opacity="0.7" stroke="#3a3a3a" stroke-width="0.55"/>
<circle cx="413.69" cy="592.77" r="1.2" fill="#fff" fill-opacity="0.7" stroke="#3a3a3a" stroke-width="0.55"/>
<circle cx="411.85" cy="600.39" r="1.2" fill="#fff" fill-opacity="0.7" stroke="#3a3a3a" stroke-width="0.55"/>
<circle cx="415.54" cy="601.54" r="1.2" fill="#fff" fill-opacity="0.18" stroke="#aab3d0" stroke-opacity="0.75" stroke-width="0.5"/>
<circle cx="413.23" cy="604.31" r="1.2" fill="#fff" fill-opacity="0.18" stroke="#aab3d0" stroke-opacity="0.75" stroke-width="0.5"/>
<circle cx="414.62" cy="607.08" r="1.2" fill="#fff" fill-opacity="0.18" stroke="#aab3d0" stroke-opacity="0.75" stroke-width="0.5"/>
<circle cx="427.54" cy="596.46" r="1.25" fill="#0c0c0c"/>
<circle cx="425.69" cy="603.85" r="1.25" fill="#0c0c0c"/>
<circle cx="430.31" cy="605" r="1.2" fill="#2a0509" fill-opacity="0.85"/>
<circle cx="428" cy="607.54" r="1.2" fill="#2a0509" fill-opacity="0.85"/>
<circle cx="454.54" cy="598.77" r="1.2" fill="#fff" fill-opacity="0.7" stroke="#3a3a3a" stroke-width="0.55"/>
<circle cx="448.77" cy="601.54" r="1.2" fill="#fff" fill-opacity="0.7" stroke="#3a3a3a" stroke-width="0.55"/>
<circle cx="452.23" cy="601.08" r="1.2" fill="#fff" fill-opacity="0.7" stroke="#3a3a3a" stroke-width="0.55"/>
<circle cx="450.62" cy="604.31" r="1.2" fill="#fff" fill-opacity="0.7" stroke="#3a3a3a" stroke-width="0.55"/>
<circle cx="453.39" cy="605.69" r="1.2" fill="#fff" fill-opacity="0.7" stroke="#3a3a3a" stroke-width="0.55"/>
<circle cx="465.39" cy="602.69" r="1.25" fill="#0c0c0c"/>
<circle cx="468.39" cy="606.15" r="1.25" fill="#0c0c0c"/>
<circle cx="462.62" cy="608.46" r="1.25" fill="#0c0c0c"/>
<circle cx="465.39" cy="610.31" r="1.2" fill="#2a0509" fill-opacity="0.85"/>
<circle cx="488.69" cy="560" r="1.2" fill="#fff" fill-opacity="0.7" stroke="#3a3a3a" stroke-width="0.55"/>
<circle cx="492.15" cy="561.85" r="1.2" fill="#fff" fill-opacity="0.7" stroke="#3a3a3a" stroke-width="0.55"/>
<circle cx="488.69" cy="566" r="1.2" fill="#fff" fill-opacity="0.7" stroke="#3a3a3a" stroke-width="0.55"/>
<circle cx="485.69" cy="576.15" r="1.2" fill="#fff" fill-opacity="0.7" stroke="#3a3a3a" stroke-width="0.55"/>
<circle cx="492.15" cy="577.31" r="1.2" fill="#fff" fill-opacity="0.7" stroke="#3a3a3a" stroke-width="0.55"/>
<circle cx="488.92" cy="580.77" r="1.2" fill="#fff" fill-opacity="0.18" stroke="#aab3d0" stroke-opacity="0.75" stroke-width="0.5"/>
<circle cx="502.54" cy="575" r="1.25" fill="#0c0c0c"/>
<circle cx="502.54" cy="581.92" r="1.25" fill="#0c0c0c"/>
<circle cx="500.69" cy="591.15" r="1.2" fill="#2a0509" fill-opacity="0.85"/>
<circle cx="505.31" cy="592.31" r="1.2" fill="#2a0509" fill-opacity="0.85"/>
<circle cx="503" cy="595.77" r="1.2" fill="#2a0509" fill-opacity="0.85"/>
<line x1="404.3" y1="543.8" x2="404.3" y2="614.25" stroke="#111" stroke-width="1.15" />
<line x1="403.75" y1="613.7" x2="512.3" y2="613.7" stroke="#111" stroke-width="1.15" />
<line x1="420.65" y1="613.7" x2="420.65" y2="616.6" stroke="#111" stroke-width="0.8" />
<line x1="458.15" y1="613.7" x2="458.15" y2="616.6" stroke="#111" stroke-width="0.8" />
<line x1="495.65" y1="613.7" x2="495.65" y2="616.6" stroke="#111" stroke-width="0.8" />
<line x1="400.7" y1="547.31" x2="404.3" y2="547.31" stroke="#111" stroke-width="0.9" />
<text transform="translate(398.5 549.81)" font-size="7" text-anchor="end" fill="#222" stroke="#222" stroke-width="0.1">0.04</text>
<line x1="400.7" y1="563.92" x2="404.3" y2="563.92" stroke="#111" stroke-width="0.9" />
<text transform="translate(398.5 566.42)" font-size="7" text-anchor="end" fill="#222" stroke="#222" stroke-width="0.1">0.03</text>
<line x1="400.7" y1="580.77" x2="404.3" y2="580.77" stroke="#111" stroke-width="0.9" />
<text transform="translate(398.5 583.27)" font-size="7" text-anchor="end" fill="#222" stroke="#222" stroke-width="0.1">0.02</text>
<line x1="400.7" y1="597.39" x2="404.3" y2="597.39" stroke="#111" stroke-width="0.9" />
<text transform="translate(398.5 599.89)" font-size="7" text-anchor="end" fill="#222" stroke="#222" stroke-width="0.1">0.01</text>
<line x1="400.7" y1="613.7" x2="404.3" y2="613.7" stroke="#111" stroke-width="0.9" />
<text transform="translate(398.5 616.2)" font-size="7" text-anchor="end" fill="#222" stroke="#222" stroke-width="0.1">0</text>
<text transform="translate(378.5 578.7) rotate(-90) scale(0.81 1)" font-size="8.8" text-anchor="middle" fill="#222" stroke="#222" stroke-width="0.16"><tspan font-style="italic">Id1</tspan> mRNA/LIC</text>
<text transform="translate(421.3 626)" font-size="6.6" text-anchor="middle" fill="#222" stroke="#222" stroke-width="0.12">IDD</text>
<text transform="translate(457.7 626)" font-size="6.6" text-anchor="middle" fill="#222" stroke="#222" stroke-width="0.12">IDD<tspan font-family="DejaVu Sans, sans-serif" font-size="6.6" dx="0.3" dy="-0.1">→</tspan><tspan dx="0.3" dy="0.1">SD</tspan></text>
<text transform="translate(498.3 626)" font-size="6.6" text-anchor="middle" fill="#222" letter-spacing="0.28" stroke="#222" stroke-width="0.12">IDD + holo-Tf</text>
<text transform="translate(488.69 554.38)" font-size="7" text-anchor="middle" fill="#444">a</text>
<text transform="translate(502.54 566.15)" font-size="7" text-anchor="middle" fill="#444">b</text>
<line x1="407.69" y1="546.15" x2="439.54" y2="546.15" stroke="#2a2a2a" stroke-width="1.05" />
<text transform="translate(423.38 543.75) scale(0.92 1)" font-size="7.4" text-anchor="middle" fill="#222" stroke="#222" stroke-width="0.08"><tspan font-style="italic">P</tspan> = .122</text>
<line x1="478.77" y1="546.15" x2="511.08" y2="546.15" stroke="#2a2a2a" stroke-width="1.05" />
<text transform="translate(493.77 543.75) scale(0.92 1)" font-size="7.4" text-anchor="middle" fill="#222" stroke="#222" stroke-width="0.08"><tspan font-style="italic">P</tspan> &lt; .05</text>
</g>
<g id="legend">
<rect x="233.8" y="641.6" width="10.4" height="5.5" fill="#24397a" />
<text transform="translate(247.4 646.9)" font-size="6.3" text-anchor="start" fill="#222" stroke="#222" stroke-width="0.1">Tfrc<tspan font-size="7" dy="-3.4">fl/fl</tspan></text>
<rect x="278.8" y="641.6" width="10.4" height="5.5" fill="#9f1329" />
<text transform="translate(292.4 646.9)" font-size="6.3" text-anchor="start" fill="#222" stroke="#222" stroke-width="0.1">Tfrc<tspan font-size="7" dy="-3.2">Tek/Cre</tspan></text>
</g>
</svg>
</body>
</html>
